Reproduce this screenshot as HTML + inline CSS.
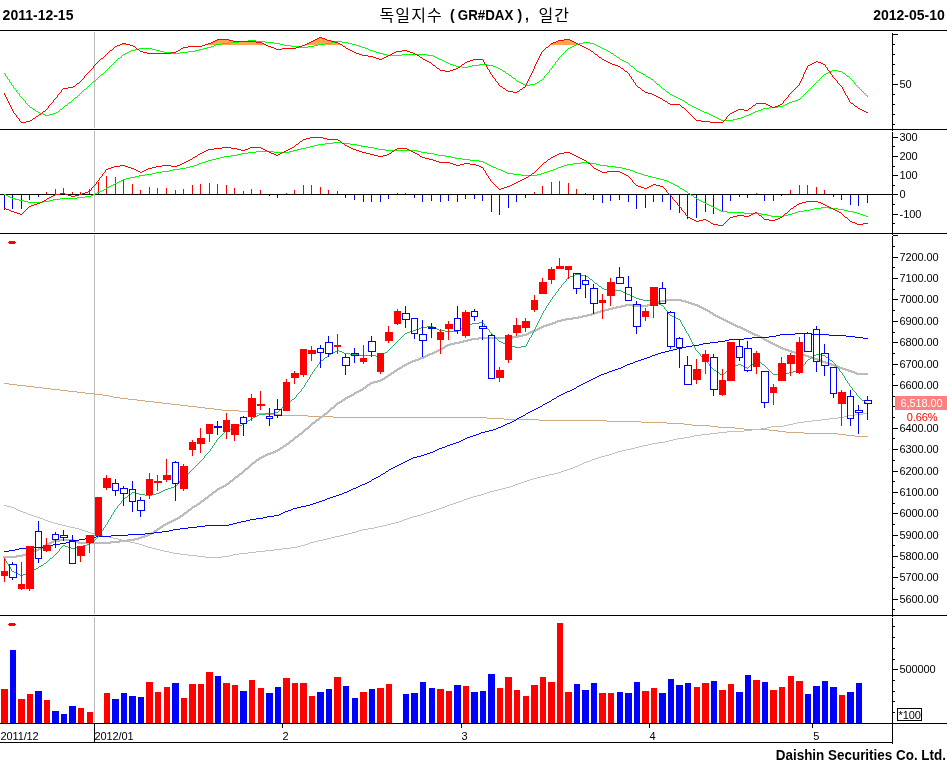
<!DOCTYPE html>
<html><head><meta charset="utf-8"><title>GR#DAX</title><style>html,body{margin:0;padding:0;background:#fff}</style></head><body>
<svg width="947" height="767" viewBox="0 0 947 767" style="display:block" shape-rendering="crispEdges">
<rect width="947" height="767" fill="#fff"/>
<rect x="0" y="194" width="893" height="1" fill="#000"/>
<rect x="94" y="32" width="1" height="96" fill="#bababa"/>
<rect x="94" y="131" width="1" height="101" fill="#bababa"/>
<rect x="94" y="235" width="1" height="379" fill="#bababa"/>
<rect x="94" y="617" width="1" height="105" fill="#bababa"/>
<path d="M120 44h10v1h-10zM122 43h4v1h-4zM205 44h61v1h-61zM208 43h56v1h-56zM211 42h51v1h-51zM213 41h43v1h-43zM215 40h18v1h-18zM217 39h12v1h-12zM305 44h37v1h-37zM307 43h33v1h-33zM309 42h29v1h-29zM311 41h24v1h-24zM313 40h18v1h-18zM315 39h12v1h-12zM317 38h8v1h-8zM319 37h3v1h-3zM550 44h30v1h-30zM551 43h27v1h-27zM553 42h23v1h-23zM556 41h18v1h-18zM558 40h14v1h-14zM564 39h6v1h-6z" fill="#ffa550"/>
<path d="M4 73h1v1h-1zM5 74h1v2h-1zM6 76h1v1h-1zM7 77h1v2h-1zM8 79h1v1h-1zM9 80h1v2h-1zM10 82h1v1h-1zM11 83h1v2h-1zM12 85h1v1h-1zM13 86h1v2h-1zM14 88h1v1h-1zM15 89h1v1h-1zM16 90h1v2h-1zM17 92h1v1h-1zM18 93h1v1h-1zM19 94h1v2h-1zM20 96h1v1h-1zM21 97h1v1h-1zM22 98h1v1h-1zM23 99h1v1h-1zM24 100h1v1h-1zM25 101h1v2h-1zM26 103h1v1h-1zM27 104h1v1h-1zM28 105h1v1h-1zM29 106h1v1h-1zM30 107h2v1h-2zM32 108h1v1h-1zM33 109h2v1h-2zM35 110h1v1h-1zM36 111h2v1h-2zM38 112h2v1h-2zM40 113h3v1h-3zM43 114h2v1h-2zM45 115h4v1h-4zM49 114h4v1h-4zM53 113h3v1h-3zM56 112h2v1h-2zM58 111h1v1h-1zM59 110h1v1h-1zM60 109h2v1h-2zM62 108h1v1h-1zM63 107h1v1h-1zM64 106h1v1h-1zM65 105h2v1h-2zM67 104h1v1h-1zM68 103h1v1h-1zM69 102h2v1h-2zM71 101h1v1h-1zM72 100h1v1h-1zM73 99h1v1h-1zM74 98h1v1h-1zM75 97h2v1h-2zM77 96h1v1h-1zM78 95h1v1h-1zM79 94h1v1h-1zM80 93h1v1h-1zM81 92h1v1h-1zM82 91h1v1h-1zM83 90h1v1h-1zM84 89h2v1h-2zM86 88h1v1h-1zM87 87h1v1h-1zM88 86h1v1h-1zM89 85h1v1h-1zM90 84h1v1h-1zM91 83h1v1h-1zM92 82h1v1h-1zM93 81h2v1h-2zM95 80h1v1h-1zM96 79h1v1h-1zM97 78h1v1h-1zM98 77h1v1h-1zM99 76h1v1h-1zM100 75h1v1h-1zM101 74h2v1h-2zM103 73h1v1h-1zM104 72h1v1h-1zM105 71h1v1h-1zM106 70h1v1h-1zM107 69h1v1h-1zM108 68h1v1h-1zM109 67h1v1h-1zM110 66h1v1h-1zM111 65h1v1h-1zM112 64h1v1h-1zM113 63h1v1h-1zM114 62h1v1h-1zM115 61h1v1h-1zM116 60h1v1h-1zM117 59h1v1h-1zM118 58h2v1h-2zM120 57h1v1h-1zM121 56h1v1h-1zM122 55h1v1h-1zM123 54h2v1h-2zM125 53h2v1h-2zM127 52h2v1h-2zM129 51h2v1h-2zM131 50h4v1h-4zM135 49h4v1h-4zM139 48h13v1h-13zM152 49h4v1h-4zM156 50h4v1h-4zM160 51h4v1h-4zM164 52h7v1h-7zM171 53h9v1h-9zM180 52h8v1h-8zM188 51h7v1h-7zM195 50h4v1h-4zM199 49h4v1h-4zM203 48h4v1h-4zM207 47h4v1h-4zM211 46h3v1h-3zM214 45h2v1h-2zM216 44h6v1h-6zM222 43h9v1h-9zM231 42h8v1h-8zM239 41h9v1h-9zM248 40h8v1h-8zM256 41h9v1h-9zM265 42h9v1h-9zM274 43h6v1h-6zM280 44h4v1h-4zM284 45h7v1h-7zM291 46h8v1h-8zM299 47h9v1h-9zM308 46h6v1h-6zM314 45h4v1h-4zM318 44h7v1h-7zM325 43h6v1h-6zM331 42h4v1h-4zM335 41h7v1h-7zM342 42h6v1h-6zM348 43h4v1h-4zM352 44h4v1h-4zM356 45h3v1h-3zM359 46h3v1h-3zM362 47h3v1h-3zM365 48h3v1h-3zM368 49h2v1h-2zM370 50h3v1h-3zM373 51h3v1h-3zM376 52h3v1h-3zM379 53h4v1h-4zM383 54h4v1h-4zM387 55h15v1h-15zM402 54h25v1h-25zM427 55h6v1h-6zM433 56h2v1h-2zM435 57h2v1h-2zM437 58h2v1h-2zM439 59h3v1h-3zM442 60h2v1h-2zM444 61h2v1h-2zM446 62h2v1h-2zM448 63h2v1h-2zM450 64h3v1h-3zM453 65h3v1h-3zM456 66h6v1h-6zM462 67h6v1h-6zM468 66h4v1h-4zM472 65h7v1h-7zM479 64h8v1h-8zM487 65h6v1h-6zM493 66h3v1h-3zM496 67h2v1h-2zM498 68h2v1h-2zM500 69h2v1h-2zM502 70h1v1h-1zM503 71h2v1h-2zM505 72h1v1h-1zM506 73h2v1h-2zM508 74h1v1h-1zM509 75h2v1h-2zM511 76h1v1h-1zM512 77h1v1h-1zM513 78h2v1h-2zM515 79h1v1h-1zM516 80h1v1h-1zM517 81h2v1h-2zM519 82h2v1h-2zM521 83h2v1h-2zM523 84h2v1h-2zM525 85h5v1h-5zM530 84h5v1h-5zM535 83h2v1h-2zM537 82h2v1h-2zM539 81h1v1h-1zM540 80h2v1h-2zM542 79h1v1h-1zM543 78h1v1h-1zM544 76h1v2h-1zM545 75h1v1h-1zM546 74h1v1h-1zM547 73h1v1h-1zM548 72h1v1h-1zM549 70h1v2h-1zM550 69h1v1h-1zM551 68h1v1h-1zM552 66h1v2h-1zM553 65h1v1h-1zM554 64h1v1h-1zM555 62h1v2h-1zM556 61h1v1h-1zM557 60h1v1h-1zM558 58h1v2h-1zM559 57h1v1h-1zM560 56h1v1h-1zM561 55h1v1h-1zM562 54h1v1h-1zM563 53h1v1h-1zM564 52h1v1h-1zM565 51h1v1h-1zM566 50h1v1h-1zM567 49h1v1h-1zM568 48h2v1h-2zM570 47h2v1h-2zM572 46h2v1h-2zM574 45h2v1h-2zM576 44h3v1h-3zM579 43h4v1h-4zM583 42h7v1h-7zM590 43h4v1h-4zM594 44h2v1h-2zM596 45h2v1h-2zM598 46h2v1h-2zM600 47h2v1h-2zM602 48h2v1h-2zM604 49h2v1h-2zM606 50h2v1h-2zM608 51h2v1h-2zM610 52h1v1h-1zM611 53h2v1h-2zM613 54h1v1h-1zM614 55h2v1h-2zM616 56h1v1h-1zM617 57h2v1h-2zM619 58h1v1h-1zM620 59h2v1h-2zM622 60h2v1h-2zM624 61h2v1h-2zM626 62h2v1h-2zM628 63h1v1h-1zM629 64h1v1h-1zM630 65h1v1h-1zM631 66h2v1h-2zM633 67h1v1h-1zM634 68h1v1h-1zM635 69h1v1h-1zM636 70h1v1h-1zM637 71h2v1h-2zM639 72h2v1h-2zM641 73h2v1h-2zM643 74h2v1h-2zM645 75h1v1h-1zM646 76h2v1h-2zM648 77h2v1h-2zM650 78h1v1h-1zM651 79h2v1h-2zM653 80h1v1h-1zM654 81h1v1h-1zM655 82h1v1h-1zM656 83h1v1h-1zM657 84h2v1h-2zM659 85h1v1h-1zM660 86h1v1h-1zM661 87h1v1h-1zM662 88h1v1h-1zM663 89h2v1h-2zM665 90h1v1h-1zM666 91h1v1h-1zM667 92h2v1h-2zM669 93h1v1h-1zM670 94h2v1h-2zM672 95h2v1h-2zM674 96h2v1h-2zM676 97h2v1h-2zM678 98h2v1h-2zM680 99h2v1h-2zM682 100h2v1h-2zM684 101h1v1h-1zM685 102h2v1h-2zM687 103h1v1h-1zM688 104h2v1h-2zM690 105h2v1h-2zM692 106h2v1h-2zM694 107h2v1h-2zM696 108h2v1h-2zM698 109h2v1h-2zM700 110h2v1h-2zM702 111h2v1h-2zM704 112h3v1h-3zM707 113h2v1h-2zM709 114h2v1h-2zM711 115h2v1h-2zM713 116h2v1h-2zM715 117h2v1h-2zM717 118h2v1h-2zM719 119h2v1h-2zM721 120h12v1h-12zM733 119h4v1h-4zM737 118h4v1h-4zM741 117h3v1h-3zM744 116h2v1h-2zM746 115h3v1h-3zM749 114h2v1h-2zM751 113h2v1h-2zM753 112h2v1h-2zM755 111h3v1h-3zM758 110h3v1h-3zM761 109h2v1h-2zM763 108h6v1h-6zM769 107h9v1h-9zM778 106h5v1h-5zM783 105h2v1h-2zM785 104h2v1h-2zM787 103h2v1h-2zM789 102h3v1h-3zM792 101h3v1h-3zM795 100h3v1h-3zM798 99h2v1h-2zM800 98h1v1h-1zM801 97h1v1h-1zM802 96h1v1h-1zM803 95h1v1h-1zM804 94h1v1h-1zM805 93h1v1h-1zM806 92h1v1h-1zM807 91h1v1h-1zM808 90h1v1h-1zM809 89h1v1h-1zM810 88h1v1h-1zM811 87h1v1h-1zM812 86h1v1h-1zM813 85h1v1h-1zM814 84h1v1h-1zM815 83h1v1h-1zM816 82h1v1h-1zM817 81h1v1h-1zM818 80h1v1h-1zM819 79h1v1h-1zM820 78h1v1h-1zM821 77h1v1h-1zM822 76h1v1h-1zM823 75h1v1h-1zM824 74h2v1h-2zM826 73h2v1h-2zM828 72h2v1h-2zM830 71h2v1h-2zM832 70h6v1h-6zM838 71h4v1h-4zM842 72h1v1h-1zM843 73h2v1h-2zM845 74h1v1h-1zM846 75h1v1h-1zM847 76h2v1h-2zM849 77h1v1h-1zM850 78h1v1h-1zM851 79h1v1h-1zM852 80h1v1h-1zM853 81h1v1h-1zM854 82h1v2h-1zM855 84h1v1h-1zM856 85h1v1h-1zM857 86h1v1h-1zM858 87h1v1h-1zM859 88h1v1h-1zM860 89h1v1h-1zM861 90h1v1h-1zM862 91h1v1h-1zM863 92h1v1h-1zM864 93h1v1h-1zM865 94h1v1h-1zM866 95h1v1h-1zM867 96h1v1h-1z" fill="#00ff00"/>
<path d="M4 93h1v2h-1zM5 95h1v2h-1zM6 97h1v2h-1zM7 99h1v2h-1zM8 101h1v2h-1zM9 103h1v2h-1zM10 105h1v2h-1zM11 107h1v2h-1zM12 109h1v2h-1zM13 111h1v2h-1zM14 113h1v1h-1zM15 114h1v1h-1zM16 115h1v2h-1zM17 117h1v1h-1zM18 118h1v1h-1zM19 119h1v2h-1zM20 121h1v1h-1zM21 122h5v1h-5zM26 121h4v1h-4zM30 120h2v1h-2zM32 119h1v1h-1zM33 118h2v1h-2zM35 117h1v1h-1zM36 116h2v1h-2zM38 115h1v1h-1zM39 114h2v1h-2zM41 113h1v1h-1zM42 112h1v1h-1zM43 111h2v1h-2zM45 110h1v1h-1zM46 109h1v1h-1zM47 108h1v1h-1zM48 106h1v2h-1zM49 105h1v1h-1zM50 104h1v1h-1zM51 103h1v1h-1zM52 102h1v1h-1zM53 100h1v2h-1zM54 99h1v1h-1zM55 98h1v1h-1zM56 97h1v1h-1zM57 95h1v2h-1zM58 94h1v1h-1zM59 93h1v1h-1zM60 92h1v1h-1zM61 90h1v2h-1zM62 89h1v1h-1zM63 88h5v1h-5zM68 87h5v1h-5zM73 86h2v1h-2zM75 85h1v1h-1zM76 84h1v1h-1zM77 83h2v1h-2zM79 82h1v1h-1zM80 81h1v1h-1zM81 80h1v1h-1zM82 79h1v1h-1zM83 78h1v1h-1zM84 76h1v2h-1zM85 75h1v1h-1zM86 74h1v1h-1zM87 73h1v1h-1zM88 72h1v1h-1zM89 71h1v1h-1zM90 70h1v1h-1zM91 69h1v1h-1zM92 68h1v1h-1zM93 66h1v2h-1zM94 65h1v1h-1zM95 64h1v1h-1zM96 63h1v1h-1zM97 62h1v1h-1zM98 61h1v1h-1zM99 60h1v1h-1zM100 59h1v1h-1zM101 58h2v1h-2zM103 57h1v1h-1zM104 56h1v1h-1zM105 55h1v1h-1zM106 54h1v1h-1zM107 53h1v1h-1zM108 52h1v1h-1zM109 51h1v1h-1zM110 50h2v1h-2zM112 49h1v1h-1zM113 48h1v1h-1zM114 47h1v1h-1zM115 46h2v1h-2zM117 45h3v1h-3zM120 44h2v1h-2zM122 43h4v1h-4zM126 44h4v1h-4zM130 45h3v1h-3zM133 46h2v1h-2zM135 47h1v1h-1zM136 48h1v1h-1zM137 49h2v1h-2zM139 50h1v1h-1zM140 51h3v1h-3zM143 52h4v1h-4zM147 53h24v1h-24zM171 52h5v1h-5zM176 51h2v1h-2zM178 50h2v1h-2zM180 49h1v1h-1zM181 48h2v1h-2zM183 47h5v1h-5zM188 46h14v1h-14zM202 45h3v1h-3zM205 44h3v1h-3zM208 43h3v1h-3zM211 42h2v1h-2zM213 41h2v1h-2zM215 40h2v1h-2zM217 39h12v1h-12zM229 40h4v1h-4zM233 41h23v1h-23zM256 42h6v1h-6zM262 43h2v1h-2zM264 44h2v1h-2zM266 45h2v1h-2zM268 46h3v1h-3zM271 47h3v1h-3zM274 48h2v1h-2zM276 49h6v1h-6zM282 48h14v1h-14zM296 47h3v1h-3zM299 46h3v1h-3zM302 45h3v1h-3zM305 44h2v1h-2zM307 43h2v1h-2zM309 42h2v1h-2zM311 41h2v1h-2zM313 40h2v1h-2zM315 39h2v1h-2zM317 38h2v1h-2zM319 37h3v1h-3zM322 38h3v1h-3zM325 39h2v1h-2zM327 40h4v1h-4zM331 41h4v1h-4zM335 42h3v1h-3zM338 43h2v1h-2zM340 44h2v1h-2zM342 45h1v1h-1zM343 46h2v1h-2zM345 47h1v1h-1zM346 48h2v1h-2zM348 49h2v1h-2zM350 50h2v1h-2zM352 51h2v1h-2zM354 52h2v1h-2zM356 53h3v1h-3zM359 54h3v1h-3zM362 55h6v1h-6zM368 56h5v1h-5zM373 57h3v1h-3zM376 58h3v1h-3zM379 59h3v1h-3zM382 58h2v1h-2zM384 57h2v1h-2zM386 56h2v1h-2zM388 55h2v1h-2zM390 54h2v1h-2zM392 53h2v1h-2zM394 52h2v1h-2zM396 51h6v1h-6zM402 50h5v1h-5zM407 51h3v1h-3zM410 52h3v1h-3zM413 53h2v1h-2zM415 54h2v1h-2zM417 55h2v1h-2zM419 56h1v1h-1zM420 57h2v1h-2zM422 58h1v1h-1zM423 59h2v1h-2zM425 60h2v1h-2zM427 61h2v1h-2zM429 62h2v1h-2zM431 63h1v1h-1zM432 64h1v1h-1zM433 65h2v1h-2zM435 66h1v1h-1zM436 67h1v1h-1zM437 68h2v1h-2zM439 69h1v1h-1zM440 70h5v1h-5zM445 71h5v1h-5zM450 70h3v1h-3zM453 69h3v1h-3zM456 68h2v1h-2zM458 67h2v1h-2zM460 66h1v1h-1zM461 65h1v1h-1zM462 64h2v1h-2zM464 63h1v1h-1zM465 62h2v1h-2zM467 61h3v1h-3zM470 60h3v1h-3zM473 59h10v1h-10zM483 60h1v2h-1zM484 62h1v2h-1zM485 64h1v1h-1zM486 65h1v2h-1zM487 67h1v2h-1zM488 69h1v1h-1zM489 70h1v2h-1zM490 72h1v2h-1zM491 74h1v1h-1zM492 75h1v2h-1zM493 77h1v1h-1zM494 78h1v1h-1zM495 79h1v2h-1zM496 81h1v1h-1zM497 82h1v1h-1zM498 83h1v2h-1zM499 85h1v1h-1zM500 86h2v1h-2zM502 87h1v1h-1zM503 88h2v1h-2zM505 89h1v1h-1zM506 90h2v1h-2zM508 91h5v1h-5zM513 92h4v1h-4zM517 91h2v1h-2zM519 90h1v1h-1zM520 89h2v1h-2zM522 88h1v1h-1zM523 87h2v1h-2zM525 85h1v2h-1zM526 83h1v2h-1zM527 81h1v2h-1zM528 79h1v2h-1zM529 77h1v2h-1zM530 75h1v2h-1zM531 73h1v2h-1zM532 71h1v2h-1zM533 69h1v2h-1zM534 66h1v3h-1zM535 64h1v2h-1zM536 62h1v2h-1zM537 60h1v2h-1zM538 58h1v2h-1zM539 56h1v2h-1zM540 54h1v2h-1zM541 52h1v2h-1zM542 51h1v1h-1zM543 50h1v1h-1zM544 49h1v1h-1zM545 48h1v1h-1zM546 47h2v1h-2zM548 46h1v1h-1zM549 45h1v1h-1zM550 44h1v1h-1zM551 43h2v1h-2zM553 42h3v1h-3zM556 41h2v1h-2zM558 40h6v1h-6zM564 39h6v1h-6zM570 40h2v1h-2zM572 41h2v1h-2zM574 42h2v1h-2zM576 43h2v1h-2zM578 44h2v1h-2zM580 45h2v1h-2zM582 46h2v1h-2zM584 47h2v1h-2zM586 48h2v1h-2zM588 49h2v1h-2zM590 50h1v1h-1zM591 51h2v1h-2zM593 52h1v1h-1zM594 53h1v1h-1zM595 54h2v1h-2zM597 55h1v1h-1zM598 56h1v1h-1zM599 57h2v1h-2zM601 58h1v1h-1zM602 59h2v1h-2zM604 60h2v1h-2zM606 61h2v1h-2zM608 62h2v1h-2zM610 63h2v1h-2zM612 64h3v1h-3zM615 65h3v1h-3zM618 66h2v1h-2zM620 67h1v1h-1zM621 68h2v1h-2zM623 69h1v1h-1zM624 70h1v1h-1zM625 71h2v1h-2zM627 72h1v1h-1zM628 73h1v1h-1zM629 74h1v2h-1zM630 76h1v1h-1zM631 77h1v2h-1zM632 79h1v1h-1zM633 80h1v2h-1zM634 82h1v1h-1zM635 83h1v2h-1zM636 85h1v1h-1zM637 86h1v1h-1zM638 87h2v1h-2zM640 88h1v1h-1zM641 89h1v1h-1zM642 90h2v1h-2zM644 91h1v1h-1zM645 92h3v1h-3zM648 93h4v1h-4zM652 94h2v1h-2zM654 95h2v1h-2zM656 96h2v1h-2zM658 97h2v1h-2zM660 98h2v1h-2zM662 99h1v1h-1zM663 100h2v1h-2zM665 101h2v1h-2zM667 102h1v1h-1zM668 103h2v1h-2zM670 104h10v1h-10zM680 105h1v1h-1zM681 106h1v1h-1zM682 107h2v1h-2zM684 108h1v1h-1zM685 109h1v1h-1zM686 110h1v1h-1zM687 111h1v1h-1zM688 112h1v1h-1zM689 113h1v1h-1zM690 114h1v1h-1zM691 115h1v1h-1zM692 116h1v1h-1zM693 117h1v1h-1zM694 118h1v1h-1zM695 119h1v1h-1zM696 120h5v1h-5zM701 121h9v1h-9zM710 122h13v1h-13zM723 121h1v1h-1zM724 120h1v1h-1zM725 119h1v1h-1zM726 117h1v2h-1zM727 116h1v1h-1zM728 115h1v1h-1zM729 114h1v1h-1zM730 113h2v1h-2zM732 112h2v1h-2zM734 111h2v1h-2zM736 110h2v1h-2zM738 109h6v1h-6zM744 110h4v1h-4zM748 109h1v1h-1zM749 108h2v1h-2zM751 107h1v1h-1zM752 106h1v1h-1zM753 105h2v1h-2zM755 104h1v1h-1zM756 103h10v1h-10zM766 104h2v1h-2zM768 105h2v1h-2zM770 106h2v1h-2zM772 107h3v1h-3zM775 106h3v1h-3zM778 105h2v1h-2zM780 104h2v1h-2zM782 103h1v1h-1zM783 101h1v2h-1zM784 100h1v1h-1zM785 99h1v1h-1zM786 98h1v1h-1zM787 97h1v1h-1zM788 95h1v2h-1zM789 94h1v1h-1zM790 93h1v1h-1zM791 92h1v1h-1zM792 91h1v1h-1zM793 90h1v1h-1zM794 89h1v1h-1zM795 88h1v1h-1zM796 87h1v1h-1zM797 86h1v1h-1zM798 85h1v1h-1zM799 83h1v2h-1zM800 81h1v2h-1zM801 79h1v2h-1zM802 77h1v2h-1zM803 74h1v3h-1zM804 72h1v2h-1zM805 70h1v2h-1zM806 68h1v2h-1zM807 66h1v2h-1zM808 65h2v1h-2zM810 64h2v1h-2zM812 63h2v1h-2zM814 62h2v1h-2zM816 61h2v1h-2zM818 62h3v1h-3zM821 63h2v1h-2zM823 64h2v1h-2zM825 65h1v2h-1zM826 67h1v1h-1zM827 68h1v2h-1zM828 70h1v1h-1zM829 71h1v1h-1zM830 72h1v2h-1zM831 74h1v1h-1zM832 75h1v2h-1zM833 77h1v1h-1zM834 78h1v1h-1zM835 79h1v1h-1zM836 80h1v1h-1zM837 81h1v2h-1zM838 83h1v1h-1zM839 84h1v1h-1zM840 85h1v1h-1zM841 86h1v1h-1zM842 87h1v2h-1zM843 89h1v2h-1zM844 91h1v2h-1zM845 93h1v2h-1zM846 95h1v1h-1zM847 96h1v2h-1zM848 98h1v2h-1zM849 100h1v2h-1zM850 102h1v1h-1zM851 103h2v1h-2zM853 104h1v1h-1zM854 105h1v1h-1zM855 106h2v1h-2zM857 107h1v1h-1zM858 108h2v1h-2zM860 109h2v1h-2zM862 110h2v1h-2zM864 111h2v1h-2zM866 112h2v1h-2z" fill="#ff0000"/>
<rect x="4" y="195" width="1" height="15" fill="#0000ff"/>
<rect x="12" y="195" width="1" height="14" fill="#0000ff"/>
<rect x="21" y="195" width="1" height="14" fill="#0000ff"/>
<rect x="29" y="195" width="1" height="5" fill="#0000ff"/>
<rect x="38" y="195" width="1" height="2" fill="#0000ff"/>
<rect x="46" y="192" width="1" height="2" fill="#ff0000"/>
<rect x="55" y="189" width="1" height="5" fill="#ff0000"/>
<rect x="63" y="188" width="1" height="6" fill="#ff0000"/>
<rect x="72" y="192" width="1" height="2" fill="#ff0000"/>
<rect x="80" y="192" width="1" height="2" fill="#ff0000"/>
<rect x="89" y="189" width="1" height="5" fill="#ff0000"/>
<rect x="98" y="182" width="1" height="12" fill="#ff0000"/>
<rect x="106" y="176" width="1" height="18" fill="#ff0000"/>
<rect x="115" y="177" width="1" height="17" fill="#ff0000"/>
<rect x="123" y="180" width="1" height="14" fill="#ff0000"/>
<rect x="132" y="184" width="1" height="10" fill="#ff0000"/>
<rect x="140" y="190" width="1" height="4" fill="#ff0000"/>
<rect x="149" y="187" width="1" height="7" fill="#ff0000"/>
<rect x="157" y="188" width="1" height="6" fill="#ff0000"/>
<rect x="166" y="188" width="1" height="6" fill="#ff0000"/>
<rect x="175" y="190" width="1" height="4" fill="#ff0000"/>
<rect x="183" y="189" width="1" height="5" fill="#ff0000"/>
<rect x="192" y="185" width="1" height="9" fill="#ff0000"/>
<rect x="200" y="184" width="1" height="10" fill="#ff0000"/>
<rect x="209" y="183" width="1" height="11" fill="#ff0000"/>
<rect x="217" y="184" width="1" height="10" fill="#ff0000"/>
<rect x="226" y="185" width="1" height="9" fill="#ff0000"/>
<rect x="234" y="188" width="1" height="6" fill="#ff0000"/>
<rect x="243" y="191" width="1" height="3" fill="#ff0000"/>
<rect x="251" y="189" width="1" height="5" fill="#ff0000"/>
<rect x="260" y="190" width="1" height="4" fill="#ff0000"/>
<rect x="269" y="195" width="1" height="1" fill="#0000ff"/>
<rect x="277" y="195" width="1" height="3" fill="#0000ff"/>
<rect x="286" y="193" width="1" height="1" fill="#ff0000"/>
<rect x="294" y="190" width="1" height="4" fill="#ff0000"/>
<rect x="303" y="185" width="1" height="9" fill="#ff0000"/>
<rect x="311" y="185" width="1" height="9" fill="#ff0000"/>
<rect x="320" y="187" width="1" height="7" fill="#ff0000"/>
<rect x="328" y="190" width="1" height="4" fill="#ff0000"/>
<rect x="337" y="191" width="1" height="3" fill="#ff0000"/>
<rect x="345" y="195" width="1" height="3" fill="#0000ff"/>
<rect x="354" y="195" width="1" height="5" fill="#0000ff"/>
<rect x="363" y="195" width="1" height="7" fill="#0000ff"/>
<rect x="371" y="195" width="1" height="7" fill="#0000ff"/>
<rect x="380" y="195" width="1" height="7" fill="#0000ff"/>
<rect x="388" y="195" width="1" height="4" fill="#0000ff"/>
<rect x="397" y="193" width="1" height="1" fill="#ff0000"/>
<rect x="405" y="193" width="1" height="1" fill="#ff0000"/>
<rect x="414" y="195" width="1" height="3" fill="#0000ff"/>
<rect x="422" y="195" width="1" height="7" fill="#0000ff"/>
<rect x="431" y="195" width="1" height="6" fill="#0000ff"/>
<rect x="440" y="195" width="1" height="7" fill="#0000ff"/>
<rect x="448" y="195" width="1" height="6" fill="#0000ff"/>
<rect x="457" y="195" width="1" height="7" fill="#0000ff"/>
<rect x="465" y="195" width="1" height="4" fill="#0000ff"/>
<rect x="474" y="195" width="1" height="4" fill="#0000ff"/>
<rect x="482" y="195" width="1" height="6" fill="#0000ff"/>
<rect x="491" y="195" width="1" height="17" fill="#0000ff"/>
<rect x="499" y="195" width="1" height="20" fill="#0000ff"/>
<rect x="508" y="195" width="1" height="13" fill="#0000ff"/>
<rect x="516" y="195" width="1" height="7" fill="#0000ff"/>
<rect x="525" y="195" width="1" height="3" fill="#0000ff"/>
<rect x="534" y="192" width="1" height="2" fill="#ff0000"/>
<rect x="542" y="186" width="1" height="8" fill="#ff0000"/>
<rect x="551" y="182" width="1" height="12" fill="#ff0000"/>
<rect x="559" y="181" width="1" height="13" fill="#ff0000"/>
<rect x="568" y="183" width="1" height="11" fill="#ff0000"/>
<rect x="576" y="189" width="1" height="5" fill="#ff0000"/>
<rect x="585" y="193" width="1" height="1" fill="#ff0000"/>
<rect x="593" y="195" width="1" height="5" fill="#0000ff"/>
<rect x="602" y="195" width="1" height="8" fill="#0000ff"/>
<rect x="610" y="195" width="1" height="6" fill="#0000ff"/>
<rect x="619" y="195" width="1" height="5" fill="#0000ff"/>
<rect x="628" y="195" width="1" height="7" fill="#0000ff"/>
<rect x="636" y="195" width="1" height="14" fill="#0000ff"/>
<rect x="645" y="195" width="1" height="13" fill="#0000ff"/>
<rect x="653" y="195" width="1" height="7" fill="#0000ff"/>
<rect x="662" y="195" width="1" height="7" fill="#0000ff"/>
<rect x="670" y="195" width="1" height="15" fill="#0000ff"/>
<rect x="679" y="195" width="1" height="18" fill="#0000ff"/>
<rect x="687" y="195" width="1" height="24" fill="#0000ff"/>
<rect x="696" y="195" width="1" height="23" fill="#0000ff"/>
<rect x="705" y="195" width="1" height="17" fill="#0000ff"/>
<rect x="713" y="195" width="1" height="19" fill="#0000ff"/>
<rect x="722" y="195" width="1" height="16" fill="#0000ff"/>
<rect x="730" y="195" width="1" height="6" fill="#0000ff"/>
<rect x="739" y="195" width="1" height="2" fill="#0000ff"/>
<rect x="747" y="195" width="1" height="3" fill="#0000ff"/>
<rect x="756" y="193" width="1" height="1" fill="#ff0000"/>
<rect x="764" y="195" width="1" height="6" fill="#0000ff"/>
<rect x="773" y="195" width="1" height="6" fill="#0000ff"/>
<rect x="781" y="195" width="1" height="1" fill="#0000ff"/>
<rect x="790" y="190" width="1" height="4" fill="#ff0000"/>
<rect x="799" y="185" width="1" height="9" fill="#ff0000"/>
<rect x="807" y="185" width="1" height="9" fill="#ff0000"/>
<rect x="816" y="187" width="1" height="7" fill="#ff0000"/>
<rect x="824" y="190" width="1" height="4" fill="#ff0000"/>
<rect x="833" y="195" width="1" height="2" fill="#0000ff"/>
<rect x="841" y="195" width="1" height="5" fill="#0000ff"/>
<rect x="850" y="195" width="1" height="10" fill="#0000ff"/>
<rect x="858" y="195" width="1" height="11" fill="#0000ff"/>
<rect x="867" y="195" width="1" height="8" fill="#0000ff"/>
<path d="M4 194h2v1h-2zM6 195h2v1h-2zM8 196h2v1h-2zM10 197h2v1h-2zM12 198h3v1h-3zM15 199h4v1h-4zM19 200h5v1h-5zM24 201h4v1h-4zM28 202h15v1h-15zM43 201h6v1h-6zM49 200h4v1h-4zM53 199h7v1h-7zM60 198h17v1h-17zM77 197h8v1h-8zM85 196h6v1h-6zM91 195h2v1h-2zM93 194h2v1h-2zM95 193h2v1h-2zM97 192h3v1h-3zM100 191h2v1h-2zM102 190h2v1h-2zM104 189h2v1h-2zM106 188h1v1h-1zM107 187h2v1h-2zM109 186h2v1h-2zM111 185h2v1h-2zM113 184h2v1h-2zM115 183h2v1h-2zM117 182h2v1h-2zM119 181h2v1h-2zM121 180h2v1h-2zM123 179h3v1h-3zM126 178h4v1h-4zM130 177h5v1h-5zM135 176h4v1h-4zM139 175h6v1h-6zM145 174h7v1h-7zM152 173h4v1h-4zM156 172h6v1h-6zM162 171h7v1h-7zM169 170h4v1h-4zM173 169h7v1h-7zM180 168h6v1h-6zM186 167h4v1h-4zM190 166h4v1h-4zM194 165h3v1h-3zM197 164h2v1h-2zM199 163h3v1h-3zM202 162h3v1h-3zM205 161h3v1h-3zM208 160h4v1h-4zM212 159h4v1h-4zM216 158h4v1h-4zM220 157h4v1h-4zM224 156h7v1h-7zM231 155h6v1h-6zM237 154h4v1h-4zM241 153h7v1h-7zM248 152h8v1h-8zM256 151h18v1h-18zM274 152h15v1h-15zM289 151h4v1h-4zM293 150h4v1h-4zM297 149h4v1h-4zM301 148h5v1h-5zM306 147h4v1h-4zM310 146h4v1h-4zM314 145h4v1h-4zM318 144h7v1h-7zM325 143h8v1h-8zM333 142h9v1h-9zM342 143h8v1h-8zM350 144h7v1h-7zM357 145h4v1h-4zM361 146h7v1h-7zM368 147h6v1h-6zM374 148h4v1h-4zM378 149h7v1h-7zM385 150h32v1h-32zM417 151h4v1h-4zM421 152h6v1h-6zM427 153h7v1h-7zM434 154h4v1h-4zM438 155h7v1h-7zM445 156h6v1h-6zM451 157h4v1h-4zM455 158h7v1h-7zM462 159h8v1h-8zM470 160h9v1h-9zM479 161h4v1h-4zM483 162h2v1h-2zM485 163h2v1h-2zM487 164h2v1h-2zM489 165h2v1h-2zM491 166h2v1h-2zM493 167h3v1h-3zM496 168h2v1h-2zM498 169h3v1h-3zM501 170h2v1h-2zM503 171h2v1h-2zM505 172h2v1h-2zM507 173h6v1h-6zM513 174h8v1h-8zM521 175h16v1h-16zM537 174h4v1h-4zM541 173h3v1h-3zM544 172h3v1h-3zM547 171h3v1h-3zM550 170h3v1h-3zM553 169h3v1h-3zM556 168h2v1h-2zM558 167h3v1h-3zM561 166h3v1h-3zM564 165h3v1h-3zM567 164h6v1h-6zM573 163h8v1h-8zM581 162h9v1h-9zM590 163h6v1h-6zM596 164h4v1h-4zM600 165h7v1h-7zM607 166h8v1h-8zM615 167h7v1h-7zM622 168h4v1h-4zM626 169h4v1h-4zM630 170h3v1h-3zM633 171h2v1h-2zM635 172h3v1h-3zM638 173h3v1h-3zM641 174h3v1h-3zM644 175h4v1h-4zM648 176h4v1h-4zM652 177h4v1h-4zM656 178h4v1h-4zM660 179h4v1h-4zM664 180h3v1h-3zM667 181h2v1h-2zM669 182h2v1h-2zM671 183h2v1h-2zM673 184h2v1h-2zM675 185h2v1h-2zM677 186h2v1h-2zM679 187h1v1h-1zM680 188h2v1h-2zM682 189h2v1h-2zM684 190h1v1h-1zM685 191h2v1h-2zM687 192h1v1h-1zM688 193h2v1h-2zM690 194h1v1h-1zM691 195h2v1h-2zM693 196h1v1h-1zM694 197h2v1h-2zM696 198h1v1h-1zM697 199h2v1h-2zM699 200h2v1h-2zM701 201h2v1h-2zM703 202h2v1h-2zM705 203h2v1h-2zM707 204h2v1h-2zM709 205h2v1h-2zM711 206h2v1h-2zM713 207h2v1h-2zM715 208h2v1h-2zM717 209h2v1h-2zM719 210h2v1h-2zM721 211h6v1h-6zM727 212h17v1h-17zM744 213h17v1h-17zM761 214h6v1h-6zM767 215h4v1h-4zM771 216h13v1h-13zM784 215h4v1h-4zM788 214h4v1h-4zM792 213h3v1h-3zM795 212h3v1h-3zM798 211h6v1h-6zM804 210h6v1h-6zM810 209h4v1h-4zM814 208h7v1h-7zM821 207h8v1h-8zM829 208h9v1h-9zM838 209h6v1h-6zM844 210h4v1h-4zM848 211h5v1h-5zM853 212h4v1h-4zM857 213h3v1h-3zM860 214h3v1h-3zM863 215h3v1h-3zM866 216h2v1h-2z" fill="#00ff00"/>
<path d="M4 208h2v1h-2zM6 209h3v1h-3zM9 210h2v1h-2zM11 211h3v1h-3zM14 212h3v1h-3zM17 213h3v1h-3zM20 214h2v1h-2zM22 213h1v1h-1zM23 212h1v1h-1zM24 211h1v1h-1zM25 210h1v1h-1zM26 209h1v1h-1zM27 208h1v1h-1zM28 207h1v1h-1zM29 206h2v1h-2zM31 205h3v1h-3zM34 204h3v1h-3zM37 203h3v1h-3zM40 202h2v1h-2zM42 201h2v1h-2zM44 200h2v1h-2zM46 199h1v1h-1zM47 198h2v1h-2zM49 197h2v1h-2zM51 196h2v1h-2zM53 195h2v1h-2zM55 194h5v1h-5zM60 193h5v1h-5zM65 194h3v1h-3zM68 195h3v1h-3zM71 196h4v1h-4zM75 195h4v1h-4zM79 194h3v1h-3zM82 193h3v1h-3zM85 192h3v1h-3zM88 191h2v1h-2zM90 190h1v1h-1zM91 188h1v2h-1zM92 187h1v1h-1zM93 186h1v1h-1zM94 185h1v1h-1zM95 184h1v1h-1zM96 182h1v2h-1zM97 181h1v1h-1zM98 180h1v1h-1zM99 178h1v2h-1zM100 177h1v1h-1zM101 176h1v1h-1zM102 174h1v2h-1zM103 173h1v1h-1zM104 172h1v1h-1zM105 170h1v2h-1zM106 169h2v1h-2zM108 168h3v1h-3zM111 167h3v1h-3zM114 166h6v1h-6zM120 165h5v1h-5zM125 166h3v1h-3zM128 167h3v1h-3zM131 168h3v1h-3zM134 169h2v1h-2zM136 170h2v1h-2zM138 171h2v1h-2zM140 172h2v1h-2zM142 171h2v1h-2zM144 170h2v1h-2zM146 169h2v1h-2zM148 168h4v1h-4zM152 167h4v1h-4zM156 166h6v1h-6zM162 165h9v1h-9zM171 166h6v1h-6zM177 165h3v1h-3zM180 164h2v1h-2zM182 163h2v1h-2zM184 162h2v1h-2zM186 161h2v1h-2zM188 160h2v1h-2zM190 159h2v1h-2zM192 158h1v1h-1zM193 157h2v1h-2zM195 156h2v1h-2zM197 155h1v1h-1zM198 154h2v1h-2zM200 153h2v1h-2zM202 152h2v1h-2zM204 151h2v1h-2zM206 150h2v1h-2zM208 149h6v1h-6zM214 148h8v1h-8zM222 147h9v1h-9zM231 148h6v1h-6zM237 149h4v1h-4zM241 150h4v1h-4zM245 149h3v1h-3zM248 148h2v1h-2zM250 147h11v1h-11zM261 148h2v1h-2zM263 149h2v1h-2zM265 150h2v1h-2zM267 151h2v1h-2zM269 152h2v1h-2zM271 153h3v1h-3zM274 154h2v1h-2zM276 155h2v1h-2zM278 154h2v1h-2zM280 153h2v1h-2zM282 152h2v1h-2zM284 151h2v1h-2zM286 150h2v1h-2zM288 149h2v1h-2zM290 148h2v1h-2zM292 147h2v1h-2zM294 146h1v1h-1zM295 145h1v1h-1zM296 144h2v1h-2zM298 143h1v1h-1zM299 142h1v1h-1zM300 141h2v1h-2zM302 140h1v1h-1zM303 139h3v1h-3zM306 138h4v1h-4zM310 137h13v1h-13zM323 138h4v1h-4zM327 139h11v1h-11zM338 140h2v1h-2zM340 141h1v1h-1zM341 142h1v1h-1zM342 143h2v1h-2zM344 144h1v1h-1zM345 145h2v1h-2zM347 146h2v1h-2zM349 147h2v1h-2zM351 148h2v1h-2zM353 149h3v1h-3zM356 150h3v1h-3zM359 151h3v1h-3zM362 152h4v1h-4zM366 153h4v1h-4zM370 154h4v1h-4zM374 155h4v1h-4zM378 156h5v1h-5zM383 155h4v1h-4zM387 154h2v1h-2zM389 153h2v1h-2zM391 152h1v1h-1zM392 151h2v1h-2zM394 150h1v1h-1zM395 149h2v1h-2zM397 148h10v1h-10zM407 149h2v1h-2zM409 150h2v1h-2zM411 151h2v1h-2zM413 152h2v1h-2zM415 153h2v1h-2zM417 154h2v1h-2zM419 155h1v1h-1zM420 156h2v1h-2zM422 157h3v1h-3zM425 158h4v1h-4zM429 159h4v1h-4zM433 160h3v1h-3zM436 161h3v1h-3zM439 162h11v1h-11zM450 163h3v1h-3zM453 164h3v1h-3zM456 165h4v1h-4zM460 164h4v1h-4zM464 163h6v1h-6zM470 164h6v1h-6zM476 165h3v1h-3zM479 166h2v1h-2zM481 167h2v1h-2zM483 168h1v2h-1zM484 170h1v1h-1zM485 171h1v2h-1zM486 173h1v2h-1zM487 175h1v1h-1zM488 176h1v2h-1zM489 178h1v1h-1zM490 179h1v2h-1zM491 181h1v1h-1zM492 182h1v1h-1zM493 183h1v1h-1zM494 184h1v1h-1zM495 185h1v1h-1zM496 186h1v1h-1zM497 187h1v1h-1zM498 188h1v1h-1zM499 189h2v1h-2zM501 188h3v1h-3zM504 187h3v1h-3zM507 186h3v1h-3zM510 185h2v1h-2zM512 184h2v1h-2zM514 183h2v1h-2zM516 182h2v1h-2zM518 181h2v1h-2zM520 180h2v1h-2zM522 179h2v1h-2zM524 178h2v1h-2zM526 177h2v1h-2zM528 176h1v1h-1zM529 175h2v1h-2zM531 174h1v1h-1zM532 173h2v1h-2zM534 172h1v1h-1zM535 171h1v1h-1zM536 170h1v1h-1zM537 169h1v1h-1zM538 168h1v1h-1zM539 167h1v1h-1zM540 166h1v1h-1zM541 165h1v1h-1zM542 164h1v1h-1zM543 163h1v1h-1zM544 162h2v1h-2zM546 161h1v1h-1zM547 160h1v1h-1zM548 159h2v1h-2zM550 158h1v1h-1zM551 157h2v1h-2zM553 156h2v1h-2zM555 155h2v1h-2zM557 154h2v1h-2zM559 153h5v1h-5zM564 152h6v1h-6zM570 153h2v1h-2zM572 154h2v1h-2zM574 155h2v1h-2zM576 156h2v1h-2zM578 157h2v1h-2zM580 158h2v1h-2zM582 159h2v1h-2zM584 160h2v1h-2zM586 161h1v1h-1zM587 162h1v1h-1zM588 163h2v1h-2zM590 164h1v1h-1zM591 165h1v1h-1zM592 166h1v1h-1zM593 167h1v1h-1zM594 168h2v1h-2zM596 169h2v1h-2zM598 170h2v1h-2zM600 171h2v1h-2zM602 172h5v1h-5zM607 171h13v1h-13zM620 172h2v1h-2zM622 173h2v1h-2zM624 174h2v1h-2zM626 175h2v1h-2zM628 176h1v1h-1zM629 177h1v1h-1zM630 178h1v1h-1zM631 179h1v1h-1zM632 180h1v2h-1zM633 182h1v1h-1zM634 183h1v1h-1zM635 184h1v1h-1zM636 185h2v1h-2zM638 186h3v1h-3zM641 187h3v1h-3zM644 188h3v1h-3zM647 187h2v1h-2zM649 186h2v1h-2zM651 185h2v1h-2zM653 184h3v1h-3zM656 185h4v1h-4zM660 186h3v1h-3zM663 187h1v1h-1zM664 188h1v1h-1zM665 189h1v1h-1zM666 190h1v2h-1zM667 192h1v1h-1zM668 193h1v1h-1zM669 194h1v1h-1zM670 195h1v1h-1zM671 196h1v1h-1zM672 197h1v2h-1zM673 199h1v1h-1zM674 200h1v1h-1zM675 201h1v1h-1zM676 202h1v1h-1zM677 203h1v2h-1zM678 205h1v1h-1zM679 206h1v1h-1zM680 207h1v1h-1zM681 208h1v2h-1zM682 210h1v1h-1zM683 211h1v1h-1zM684 212h1v1h-1zM685 213h1v2h-1zM686 215h1v1h-1zM687 216h1v1h-1zM688 217h2v1h-2zM690 218h2v1h-2zM692 219h2v1h-2zM694 220h2v1h-2zM696 221h3v1h-3zM699 220h4v1h-4zM703 219h3v1h-3zM706 220h2v1h-2zM708 221h2v1h-2zM710 222h1v1h-1zM711 223h2v1h-2zM713 224h5v1h-5zM718 225h5v1h-5zM723 224h1v1h-1zM724 223h1v1h-1zM725 222h1v1h-1zM726 221h1v1h-1zM727 220h1v1h-1zM728 219h1v1h-1zM729 218h1v1h-1zM730 217h3v1h-3zM733 216h4v1h-4zM737 215h7v1h-7zM744 216h5v1h-5zM749 215h2v1h-2zM751 214h2v1h-2zM753 213h2v1h-2zM755 212h2v1h-2zM757 213h1v1h-1zM758 214h1v1h-1zM759 215h2v1h-2zM761 216h1v1h-1zM762 217h1v1h-1zM763 218h1v1h-1zM764 219h5v1h-5zM769 220h6v1h-6zM775 219h3v1h-3zM778 218h2v1h-2zM780 217h2v1h-2zM782 216h1v1h-1zM783 215h1v1h-1zM784 214h1v1h-1zM785 213h2v1h-2zM787 212h1v1h-1zM788 211h1v1h-1zM789 210h1v1h-1zM790 209h1v1h-1zM791 208h2v1h-2zM793 207h1v1h-1zM794 206h2v1h-2zM796 205h1v1h-1zM797 204h2v1h-2zM799 203h3v1h-3zM802 202h4v1h-4zM806 201h12v1h-12zM818 202h3v1h-3zM821 203h2v1h-2zM823 204h2v1h-2zM825 205h2v1h-2zM827 206h2v1h-2zM829 207h2v1h-2zM831 208h2v1h-2zM833 209h2v1h-2zM835 210h2v1h-2zM837 211h2v1h-2zM839 212h2v1h-2zM841 213h1v1h-1zM842 214h1v1h-1zM843 215h1v1h-1zM844 216h1v1h-1zM845 217h2v1h-2zM847 218h1v1h-1zM848 219h1v1h-1zM849 220h1v1h-1zM850 221h2v1h-2zM852 222h3v1h-3zM855 223h2v1h-2zM857 224h6v1h-6zM863 223h5v1h-5z" fill="#ff0000"/>
<path d="M4 383h5v1h-5zM9 384h8v1h-8zM17 385h9v1h-9zM26 386h8v1h-8zM34 387h9v1h-9zM43 388h8v1h-8zM51 389h9v1h-9zM60 390h8v1h-8zM68 391h9v1h-9zM77 392h8v1h-8zM85 393h9v1h-9zM94 394h9v1h-9zM103 395h6v1h-6zM109 396h4v1h-4zM113 397h7v1h-7zM120 398h8v1h-8zM128 399h9v1h-9zM137 400h8v1h-8zM145 401h9v1h-9zM154 402h8v1h-8zM162 403h9v1h-9zM171 404h9v1h-9zM180 405h8v1h-8zM188 406h9v1h-9zM197 407h8v1h-8zM205 408h9v1h-9zM214 409h8v1h-8zM222 410h17v1h-17zM239 411h9v1h-9zM248 412h8v1h-8zM256 413h9v1h-9zM265 414h17v1h-17zM282 415h26v1h-26zM308 416h25v1h-25zM333 417h154v1h-154zM487 418h17v1h-17zM504 419h35v1h-35zM539 420h68v1h-68zM607 421h34v1h-34zM641 422h26v1h-26zM667 423h17v1h-17zM684 424h8v1h-8zM692 425h18v1h-18zM710 426h8v1h-8zM718 427h17v1h-17zM735 428h9v1h-9zM744 429h25v1h-25zM769 430h9v1h-9zM778 431h8v1h-8zM786 432h18v1h-18zM804 433h34v1h-34zM838 434h8v1h-8zM846 435h9v1h-9zM855 436h13v1h-13z" fill="#d2aa7d"/>
<path d="M4 505h3v1h-3zM7 506h4v1h-4zM11 507h3v1h-3zM14 508h2v1h-2zM16 509h2v1h-2zM18 510h2v1h-2zM20 511h3v1h-3zM23 512h3v1h-3zM26 513h2v1h-2zM28 514h3v1h-3zM31 515h3v1h-3zM34 516h3v1h-3zM37 517h3v1h-3zM40 518h3v1h-3zM43 519h2v1h-2zM45 520h3v1h-3zM48 521h3v1h-3zM51 522h3v1h-3zM54 523h4v1h-4zM58 524h4v1h-4zM62 525h4v1h-4zM66 526h4v1h-4zM70 527h5v1h-5zM75 528h4v1h-4zM79 529h3v1h-3zM82 530h3v1h-3zM85 531h3v1h-3zM88 532h3v1h-3zM91 533h3v1h-3zM94 534h3v1h-3zM97 535h6v1h-6zM103 536h6v1h-6zM109 537h4v1h-4zM113 538h5v1h-5zM118 539h4v1h-4zM122 540h4v1h-4zM126 541h4v1h-4zM130 542h5v1h-5zM135 543h4v1h-4zM139 544h3v1h-3zM142 545h3v1h-3zM145 546h3v1h-3zM148 547h4v1h-4zM152 548h4v1h-4zM156 549h4v1h-4zM160 550h4v1h-4zM164 551h5v1h-5zM169 552h4v1h-4zM173 553h7v1h-7zM180 554h8v1h-8zM188 555h9v1h-9zM197 556h8v1h-8zM205 557h17v1h-17zM222 556h7v1h-7zM229 555h4v1h-4zM233 554h6v1h-6zM239 553h9v1h-9zM248 552h8v1h-8zM256 551h9v1h-9zM265 550h9v1h-9zM274 549h8v1h-8zM282 548h9v1h-9zM291 547h6v1h-6zM297 546h4v1h-4zM301 545h4v1h-4zM305 544h3v1h-3zM308 543h2v1h-2zM310 542h4v1h-4zM314 541h4v1h-4zM318 540h5v1h-5zM323 539h4v1h-4zM327 538h4v1h-4zM331 537h4v1h-4zM335 536h5v1h-5zM340 535h4v1h-4zM344 534h4v1h-4zM348 533h4v1h-4zM352 532h4v1h-4zM356 531h3v1h-3zM359 530h3v1h-3zM362 529h6v1h-6zM368 528h6v1h-6zM374 527h4v1h-4zM378 526h5v1h-5zM383 525h4v1h-4zM387 524h4v1h-4zM391 523h4v1h-4zM395 522h4v1h-4zM399 521h3v1h-3zM402 520h2v1h-2zM404 519h3v1h-3zM407 518h3v1h-3zM410 517h3v1h-3zM413 516h4v1h-4zM417 515h4v1h-4zM421 514h3v1h-3zM424 513h3v1h-3zM427 512h3v1h-3zM430 511h3v1h-3zM433 510h3v1h-3zM436 509h3v1h-3zM439 508h3v1h-3zM442 507h3v1h-3zM445 506h2v1h-2zM447 505h3v1h-3zM450 504h3v1h-3zM453 503h3v1h-3zM456 502h3v1h-3zM459 501h3v1h-3zM462 500h2v1h-2zM464 499h3v1h-3zM467 498h3v1h-3zM470 497h3v1h-3zM473 496h4v1h-4zM477 495h4v1h-4zM481 494h3v1h-3zM484 493h3v1h-3zM487 492h3v1h-3zM490 491h4v1h-4zM494 490h4v1h-4zM498 489h4v1h-4zM502 488h4v1h-4zM506 487h4v1h-4zM510 486h3v1h-3zM513 485h2v1h-2zM515 484h3v1h-3zM518 483h3v1h-3zM521 482h3v1h-3zM524 481h3v1h-3zM527 480h3v1h-3zM530 479h3v1h-3zM533 478h4v1h-4zM537 477h4v1h-4zM541 476h4v1h-4zM545 475h4v1h-4zM549 474h5v1h-5zM554 473h4v1h-4zM558 472h3v1h-3zM561 471h3v1h-3zM564 470h3v1h-3zM567 469h3v1h-3zM570 468h3v1h-3zM573 467h2v1h-2zM575 466h3v1h-3zM578 465h2v1h-2zM580 464h2v1h-2zM582 463h2v1h-2zM584 462h3v1h-3zM587 461h3v1h-3zM590 460h2v1h-2zM592 459h3v1h-3zM595 458h3v1h-3zM598 457h3v1h-3zM601 456h4v1h-4zM605 455h4v1h-4zM609 454h3v1h-3zM612 453h3v1h-3zM615 452h3v1h-3zM618 451h4v1h-4zM622 450h4v1h-4zM626 449h5v1h-5zM631 448h4v1h-4zM635 447h4v1h-4zM639 446h4v1h-4zM643 445h5v1h-5zM648 444h4v1h-4zM652 443h6v1h-6zM658 442h7v1h-7zM665 441h4v1h-4zM669 440h4v1h-4zM673 439h4v1h-4zM677 438h7v1h-7zM684 437h6v1h-6zM690 436h4v1h-4zM694 435h7v1h-7zM701 434h9v1h-9zM710 433h8v1h-8zM718 432h9v1h-9zM727 431h17v1h-17zM744 430h8v1h-8zM752 429h9v1h-9zM761 428h6v1h-6zM767 427h4v1h-4zM771 426h13v1h-13zM784 425h4v1h-4zM788 424h5v1h-5zM793 423h4v1h-4zM797 422h7v1h-7zM804 421h8v1h-8zM812 420h9v1h-9zM821 419h8v1h-8zM829 418h9v1h-9zM838 417h6v1h-6zM844 416h4v1h-4zM848 415h7v1h-7zM855 414h8v1h-8zM863 413h5v1h-5z" fill="#c0c0c0"/>
<path d="M3 557h14v1h-14zM3 556h20v1h-20zM16 555h10v1h-10zM22 554h6v1h-6zM25 553h6v1h-6zM27 552h7v1h-7zM30 551h7v1h-7zM33 550h6v1h-6zM36 549h5v1h-5zM38 548h5v1h-5zM40 547h4v1h-4zM42 546h4v1h-4zM43 545h5v1h-5zM45 544h5v1h-5zM47 543h5v1h-5zM49 542h5v1h-5zM51 541h9v1h-9zM53 540h24v1h-24zM59 539h15v1h-15zM73 541h6v1h-6zM76 542h44v1h-44zM78 543h33v1h-33zM110 541h18v1h-18zM119 540h16v1h-16zM127 539h12v1h-12zM134 538h8v1h-8zM138 537h7v1h-7zM141 536h7v1h-7zM144 535h6v1h-6zM147 534h5v1h-5zM149 533h5v1h-5zM151 532h4v1h-4zM153 531h4v1h-4zM154 530h4v1h-4zM156 529h4v1h-4zM157 528h4v1h-4zM159 527h4v1h-4zM160 526h4v1h-4zM162 525h4v1h-4zM163 524h5v1h-5zM165 523h5v1h-5zM167 522h5v1h-5zM169 521h5v1h-5zM171 520h5v1h-5zM173 519h5v1h-5zM175 518h5v1h-5zM177 517h4v1h-4zM179 516h4v1h-4zM180 515h4v1h-4zM182 514h3v1h-3zM183 513h4v1h-4zM184 512h4v1h-4zM186 511h3v1h-3zM187 510h4v1h-4zM188 509h4v1h-4zM190 508h3v1h-3zM191 507h4v1h-4zM192 506h5v1h-5zM194 505h4v1h-4zM196 504h4v1h-4zM197 503h4v1h-4zM199 502h3v1h-3zM200 501h4v1h-4zM201 500h4v1h-4zM203 499h3v1h-3zM204 498h4v1h-4zM205 497h4v1h-4zM207 496h3v1h-3zM208 495h4v1h-4zM209 494h4v1h-4zM211 493h3v1h-3zM212 492h4v1h-4zM213 491h4v1h-4zM215 490h3v1h-3zM216 489h4v1h-4zM217 488h5v1h-5zM219 487h5v1h-5zM221 486h5v1h-5zM223 485h4v1h-4zM225 484h4v1h-4zM226 483h4v1h-4zM228 482h3v1h-3zM229 481h4v1h-4zM230 480h4v1h-4zM232 479h3v1h-3zM233 478h3v1h-3zM234 477h4v1h-4zM235 476h4v1h-4zM237 475h3v1h-3zM238 474h4v1h-4zM239 473h4v1h-4zM241 472h3v1h-3zM242 471h3v1h-3zM243 470h3v1h-3zM244 469h4v1h-4zM245 468h4v1h-4zM247 467h3v1h-3zM248 466h3v1h-3zM249 465h3v1h-3zM250 464h3v1h-3zM251 463h4v1h-4zM252 462h4v1h-4zM254 461h3v1h-3zM255 460h4v1h-4zM256 459h4v1h-4zM258 458h4v1h-4zM259 457h5v1h-5zM261 456h5v1h-5zM263 455h5v1h-5zM265 454h6v1h-6zM267 453h7v1h-7zM270 452h6v1h-6zM273 451h5v1h-5zM275 450h5v1h-5zM277 449h4v1h-4zM279 448h4v1h-4zM280 447h4v1h-4zM282 446h4v1h-4zM283 445h4v1h-4zM285 444h4v1h-4zM286 443h4v1h-4zM288 442h3v1h-3zM289 441h4v1h-4zM290 440h4v1h-4zM292 439h3v1h-3zM293 438h3v1h-3zM294 437h4v1h-4zM295 436h4v1h-4zM297 435h3v1h-3zM298 434h4v1h-4zM299 433h4v1h-4zM301 432h3v1h-3zM302 431h3v1h-3zM303 430h3v1h-3zM304 429h4v1h-4zM305 428h4v1h-4zM307 427h3v1h-3zM308 426h3v1h-3zM309 425h3v1h-3zM310 424h3v1h-3zM311 423h4v1h-4zM312 422h4v1h-4zM314 421h3v1h-3zM315 420h4v1h-4zM316 419h4v1h-4zM318 418h3v1h-3zM319 417h4v1h-4zM320 416h4v1h-4zM322 415h3v1h-3zM323 414h4v1h-4zM324 413h4v1h-4zM326 412h3v1h-3zM327 411h3v1h-3zM328 410h3v1h-3zM329 409h3v1h-3zM330 408h4v1h-4zM331 407h4v1h-4zM333 406h3v1h-3zM334 405h3v1h-3zM335 404h3v1h-3zM336 403h4v1h-4zM337 402h5v1h-5zM339 401h4v1h-4zM341 400h4v1h-4zM342 399h4v1h-4zM344 398h4v1h-4zM345 397h5v1h-5zM347 396h5v1h-5zM349 395h5v1h-5zM351 394h4v1h-4zM353 393h4v1h-4zM354 392h5v1h-5zM356 391h5v1h-5zM358 390h5v1h-5zM360 389h4v1h-4zM362 388h4v1h-4zM363 387h4v1h-4zM365 386h3v1h-3zM366 385h4v1h-4zM367 384h4v1h-4zM369 383h5v1h-5zM370 382h8v1h-8zM373 381h8v1h-8zM377 380h6v1h-6zM380 379h5v1h-5zM382 378h4v1h-4zM384 377h4v1h-4zM385 376h4v1h-4zM387 375h4v1h-4zM388 374h4v1h-4zM390 373h4v1h-4zM391 372h4v1h-4zM393 371h4v1h-4zM394 370h4v1h-4zM396 369h4v1h-4zM397 368h5v1h-5zM399 367h4v1h-4zM401 366h4v1h-4zM402 365h5v1h-5zM404 364h5v1h-5zM406 363h5v1h-5zM408 362h5v1h-5zM410 361h6v1h-6zM412 360h7v1h-7zM415 359h6v1h-6zM418 358h6v1h-6zM420 357h6v1h-6zM423 356h5v1h-5zM425 355h5v1h-5zM427 354h6v1h-6zM429 353h6v1h-6zM432 352h5v1h-5zM434 351h5v1h-5zM436 350h5v1h-5zM438 349h5v1h-5zM440 348h5v1h-5zM442 347h4v1h-4zM444 346h4v1h-4zM445 345h6v1h-6zM447 344h8v1h-8zM450 343h10v1h-10zM454 342h10v1h-10zM459 341h9v1h-9zM463 340h9v1h-9zM467 339h12v1h-12zM471 338h42v1h-42zM478 337h41v1h-41zM512 336h11v1h-11zM518 335h9v1h-9zM522 334h7v1h-7zM526 333h5v1h-5zM528 332h5v1h-5zM530 331h6v1h-6zM532 330h6v1h-6zM535 329h5v1h-5zM537 328h5v1h-5zM539 327h5v1h-5zM541 326h6v1h-6zM543 325h7v1h-7zM546 324h7v1h-7zM549 323h7v1h-7zM552 322h6v1h-6zM555 321h7v1h-7zM557 320h9v1h-9zM561 319h12v1h-12zM565 318h14v1h-14zM572 317h11v1h-11zM578 316h10v1h-10zM582 315h10v1h-10zM587 314h8v1h-8zM591 313h7v1h-7zM594 312h7v1h-7zM597 311h8v1h-8zM600 310h9v1h-9zM604 309h9v1h-9zM608 308h9v1h-9zM612 307h10v1h-10zM616 306h10v1h-10zM621 305h31v1h-31zM625 304h8v1h-8zM632 306h16v1h-16zM647 304h8v1h-8zM651 303h7v1h-7zM654 302h7v1h-7zM657 301h10v1h-10zM660 300h26v1h-26zM666 299h16v1h-16zM681 301h8v1h-8zM685 302h7v1h-7zM688 303h7v1h-7zM691 304h7v1h-7zM694 305h6v1h-6zM697 306h5v1h-5zM699 307h5v1h-5zM701 308h5v1h-5zM703 309h5v1h-5zM705 310h5v1h-5zM707 311h4v1h-4zM709 312h4v1h-4zM710 313h4v1h-4zM712 314h4v1h-4zM713 315h5v1h-5zM715 316h5v1h-5zM717 317h5v1h-5zM719 318h5v1h-5zM721 319h5v1h-5zM723 320h5v1h-5zM725 321h5v1h-5zM727 322h5v1h-5zM729 323h5v1h-5zM731 324h5v1h-5zM733 325h5v1h-5zM735 326h6v1h-6zM737 327h6v1h-6zM740 328h5v1h-5zM742 329h5v1h-5zM744 330h5v1h-5zM746 331h5v1h-5zM748 332h5v1h-5zM750 333h5v1h-5zM752 334h6v1h-6zM754 335h6v1h-6zM757 336h5v1h-5zM759 337h5v1h-5zM761 338h4v1h-4zM763 339h4v1h-4zM764 340h5v1h-5zM766 341h5v1h-5zM768 342h5v1h-5zM770 343h5v1h-5zM772 344h5v1h-5zM774 345h5v1h-5zM776 346h5v1h-5zM778 347h5v1h-5zM780 348h6v1h-6zM782 349h7v1h-7zM785 350h7v1h-7zM788 351h7v1h-7zM791 352h7v1h-7zM794 353h8v1h-8zM797 354h9v1h-9zM801 355h8v1h-8zM805 356h7v1h-7zM808 357h7v1h-7zM811 358h7v1h-7zM814 359h7v1h-7zM817 360h6v1h-6zM820 361h6v1h-6zM822 362h7v1h-7zM825 363h7v1h-7zM828 364h7v1h-7zM831 365h7v1h-7zM834 366h6v1h-6zM837 367h6v1h-6zM839 368h7v1h-7zM842 369h7v1h-7zM845 370h7v1h-7zM848 371h7v1h-7zM851 372h6v1h-6zM854 373h14v1h-14zM856 374h12v1h-12z" fill="#bcbcbc"/>
<path d="M4 551h5v1h-5zM9 550h6v1h-6zM15 549h4v1h-4zM19 548h7v1h-7zM26 547h17v1h-17zM43 546h6v1h-6zM49 545h4v1h-4zM53 544h7v1h-7zM60 543h6v1h-6zM66 542h4v1h-4zM70 541h5v1h-5zM75 540h4v1h-4zM79 539h6v1h-6zM85 538h7v1h-7zM92 537h4v1h-4zM96 536h15v1h-15zM111 535h17v1h-17zM128 534h17v1h-17zM145 533h9v1h-9zM154 532h8v1h-8zM162 531h7v1h-7zM169 530h4v1h-4zM173 529h7v1h-7zM180 528h8v1h-8zM188 527h9v1h-9zM197 526h8v1h-8zM205 525h24v1h-24zM229 524h4v1h-4zM233 523h4v1h-4zM237 522h4v1h-4zM241 521h5v1h-5zM246 520h4v1h-4zM250 519h6v1h-6zM256 518h7v1h-7zM263 517h4v1h-4zM267 516h7v1h-7zM274 515h5v1h-5zM279 514h2v1h-2zM281 513h2v1h-2zM283 512h2v1h-2zM285 511h3v1h-3zM288 510h3v1h-3zM291 509h2v1h-2zM293 508h4v1h-4zM297 507h4v1h-4zM301 506h5v1h-5zM306 505h4v1h-4zM310 504h3v1h-3zM313 503h3v1h-3zM316 502h3v1h-3zM319 501h3v1h-3zM322 500h3v1h-3zM325 499h2v1h-2zM327 498h3v1h-3zM330 497h3v1h-3zM333 496h3v1h-3zM336 495h3v1h-3zM339 494h3v1h-3zM342 493h2v1h-2zM344 492h3v1h-3zM347 491h2v1h-2zM349 490h2v1h-2zM351 489h2v1h-2zM353 488h3v1h-3zM356 487h2v1h-2zM358 486h2v1h-2zM360 485h2v1h-2zM362 484h3v1h-3zM365 483h2v1h-2zM367 482h2v1h-2zM369 481h2v1h-2zM371 480h1v1h-1zM372 479h2v1h-2zM374 478h2v1h-2zM376 477h2v1h-2zM378 476h2v1h-2zM380 475h1v1h-1zM381 474h2v1h-2zM383 473h2v1h-2zM385 472h1v1h-1zM386 471h2v1h-2zM388 470h1v1h-1zM389 469h2v1h-2zM391 468h2v1h-2zM393 467h2v1h-2zM395 466h2v1h-2zM397 465h2v1h-2zM399 464h2v1h-2zM401 463h2v1h-2zM403 462h2v1h-2zM405 461h2v1h-2zM407 460h2v1h-2zM409 459h2v1h-2zM411 458h2v1h-2zM413 457h4v1h-4zM417 456h4v1h-4zM421 455h3v1h-3zM424 454h3v1h-3zM427 453h3v1h-3zM430 452h3v1h-3zM433 451h2v1h-2zM435 450h2v1h-2zM437 449h2v1h-2zM439 448h3v1h-3zM442 447h3v1h-3zM445 446h2v1h-2zM447 445h3v1h-3zM450 444h3v1h-3zM453 443h3v1h-3zM456 442h3v1h-3zM459 441h2v1h-2zM461 440h2v1h-2zM463 439h2v1h-2zM465 438h2v1h-2zM467 437h3v1h-3zM470 436h3v1h-3zM473 435h3v1h-3zM476 434h3v1h-3zM479 433h2v1h-2zM481 432h4v1h-4zM485 431h4v1h-4zM489 430h4v1h-4zM493 429h3v1h-3zM496 428h2v1h-2zM498 427h3v1h-3zM501 426h2v1h-2zM503 425h2v1h-2zM505 424h2v1h-2zM507 423h3v1h-3zM510 422h2v1h-2zM512 421h2v1h-2zM514 420h2v1h-2zM516 419h1v1h-1zM517 418h2v1h-2zM519 417h2v1h-2zM521 416h2v1h-2zM523 415h2v1h-2zM525 414h1v1h-1zM526 413h2v1h-2zM528 412h2v1h-2zM530 411h2v1h-2zM532 410h2v1h-2zM534 409h2v1h-2zM536 408h2v1h-2zM538 407h2v1h-2zM540 406h2v1h-2zM542 405h1v1h-1zM543 404h2v1h-2zM545 403h2v1h-2zM547 402h2v1h-2zM549 401h2v1h-2zM551 400h1v1h-1zM552 399h2v1h-2zM554 398h2v1h-2zM556 397h1v1h-1zM557 396h2v1h-2zM559 395h2v1h-2zM561 394h2v1h-2zM563 393h2v1h-2zM565 392h2v1h-2zM567 391h3v1h-3zM570 390h2v1h-2zM572 389h2v1h-2zM574 388h2v1h-2zM576 387h1v1h-1zM577 386h2v1h-2zM579 385h2v1h-2zM581 384h2v1h-2zM583 383h2v1h-2zM585 382h2v1h-2zM587 381h2v1h-2zM589 380h2v1h-2zM591 379h2v1h-2zM593 378h2v1h-2zM595 377h2v1h-2zM597 376h2v1h-2zM599 375h2v1h-2zM601 374h3v1h-3zM604 373h3v1h-3zM607 372h2v1h-2zM609 371h3v1h-3zM612 370h3v1h-3zM615 369h3v1h-3zM618 368h3v1h-3zM621 367h2v1h-2zM623 366h2v1h-2zM625 365h2v1h-2zM627 364h3v1h-3zM630 363h3v1h-3zM633 362h2v1h-2zM635 361h3v1h-3zM638 360h3v1h-3zM641 359h3v1h-3zM644 358h3v1h-3zM647 357h3v1h-3zM650 356h2v1h-2zM652 355h3v1h-3zM655 354h3v1h-3zM658 353h3v1h-3zM661 352h4v1h-4zM665 351h4v1h-4zM669 350h4v1h-4zM673 349h4v1h-4zM677 348h5v1h-5zM682 347h4v1h-4zM686 346h6v1h-6zM692 345h7v1h-7zM699 344h4v1h-4zM703 343h7v1h-7zM710 342h8v1h-8zM718 341h7v1h-7zM725 340h4v1h-4zM729 339h15v1h-15zM744 338h8v1h-8zM752 337h17v1h-17zM769 336h7v1h-7zM776 335h4v1h-4zM780 334h15v1h-15zM795 333h17v1h-17zM812 334h17v1h-17zM829 335h17v1h-17zM846 336h9v1h-9zM855 337h8v1h-8zM863 338h5v1h-5z" fill="#0000ff"/>
<path d="M4 558h1v1h-1zM5 559h1v2h-1zM6 561h1v2h-1zM7 563h1v1h-1zM8 564h1v2h-1zM9 566h1v1h-1zM10 567h1v2h-1zM11 569h1v2h-1zM12 571h2v1h-2zM14 572h2v1h-2zM16 573h2v1h-2zM18 574h2v1h-2zM20 575h3v1h-3zM23 574h3v1h-3zM26 573h2v1h-2zM28 572h2v1h-2zM30 571h2v1h-2zM32 570h2v1h-2zM34 569h2v1h-2zM36 568h2v1h-2zM38 567h1v1h-1zM39 566h2v1h-2zM41 565h2v1h-2zM43 564h1v1h-1zM44 563h2v1h-2zM46 562h1v1h-1zM47 561h1v1h-1zM48 560h1v1h-1zM49 559h1v1h-1zM50 558h2v1h-2zM52 557h1v1h-1zM53 556h1v1h-1zM54 555h1v1h-1zM55 554h1v1h-1zM56 553h1v1h-1zM57 552h1v1h-1zM58 551h1v1h-1zM59 549h1v2h-1zM60 548h1v1h-1zM61 547h1v1h-1zM62 546h1v1h-1zM63 545h2v1h-2zM65 546h3v1h-3zM68 547h3v1h-3zM71 548h4v1h-4zM75 547h4v1h-4zM79 546h4v1h-4zM83 545h4v1h-4zM87 544h3v1h-3zM90 543h1v1h-1zM91 542h1v1h-1zM92 541h1v1h-1zM93 540h2v1h-2zM95 539h1v1h-1zM96 538h1v1h-1zM97 537h1v1h-1zM98 536h1v1h-1zM99 534h1v2h-1zM100 533h1v1h-1zM101 531h1v2h-1zM102 530h1v1h-1zM103 528h1v2h-1zM104 527h1v1h-1zM105 525h1v2h-1zM106 524h1v1h-1zM107 522h1v2h-1zM108 520h1v2h-1zM109 519h1v1h-1zM110 517h1v2h-1zM111 515h1v2h-1zM112 514h1v1h-1zM113 512h1v2h-1zM114 510h1v2h-1zM115 509h1v1h-1zM116 508h1v1h-1zM117 506h1v2h-1zM118 505h1v1h-1zM119 504h1v1h-1zM120 503h1v1h-1zM121 501h1v2h-1zM122 500h1v1h-1zM123 499h1v1h-1zM124 498h1v1h-1zM125 497h2v1h-2zM127 496h1v1h-1zM128 495h1v1h-1zM129 494h2v1h-2zM131 493h1v1h-1zM132 492h3v1h-3zM135 493h4v1h-4zM139 494h6v1h-6zM145 495h7v1h-7zM152 494h4v1h-4zM156 493h3v1h-3zM159 492h2v1h-2zM161 491h2v1h-2zM163 490h2v1h-2zM165 489h3v1h-3zM168 488h3v1h-3zM171 487h3v1h-3zM174 486h2v1h-2zM176 485h1v1h-1zM177 484h1v1h-1zM178 483h1v1h-1zM179 481h1v2h-1zM180 480h1v1h-1zM181 479h1v1h-1zM182 478h1v1h-1zM183 477h1v1h-1zM184 476h1v1h-1zM185 475h1v1h-1zM186 474h1v1h-1zM187 473h2v1h-2zM189 472h1v1h-1zM190 471h1v1h-1zM191 470h1v1h-1zM192 469h1v1h-1zM193 468h1v1h-1zM194 467h1v1h-1zM195 466h1v1h-1zM196 465h1v1h-1zM197 464h1v1h-1zM198 463h1v1h-1zM199 462h1v1h-1zM200 461h1v1h-1zM201 460h1v1h-1zM202 459h1v1h-1zM203 458h1v1h-1zM204 456h1v2h-1zM205 455h1v1h-1zM206 454h1v1h-1zM207 453h1v1h-1zM208 452h1v1h-1zM209 451h1v1h-1zM210 449h1v2h-1zM211 448h1v1h-1zM212 446h1v2h-1zM213 445h1v1h-1zM214 443h1v2h-1zM215 442h1v1h-1zM216 440h1v2h-1zM217 439h1v1h-1zM218 438h1v1h-1zM219 437h1v1h-1zM220 436h1v1h-1zM221 435h1v1h-1zM222 434h1v1h-1zM223 433h1v1h-1zM224 432h1v1h-1zM225 431h1v1h-1zM226 430h2v1h-2zM228 429h3v1h-3zM231 428h2v1h-2zM233 427h3v1h-3zM236 426h3v1h-3zM239 425h3v1h-3zM242 424h2v1h-2zM244 423h2v1h-2zM246 422h1v1h-1zM247 421h1v1h-1zM248 420h2v1h-2zM250 419h1v1h-1zM251 418h2v1h-2zM253 417h2v1h-2zM255 416h2v1h-2zM257 415h2v1h-2zM259 414h6v1h-6zM265 413h9v1h-9zM274 412h4v1h-4zM278 411h1v1h-1zM279 410h1v1h-1zM280 409h1v1h-1zM281 408h1v1h-1zM282 407h1v1h-1zM283 406h1v1h-1zM284 405h1v1h-1zM285 404h1v1h-1zM286 403h1v1h-1zM287 402h2v1h-2zM289 401h2v1h-2zM291 400h1v1h-1zM292 399h2v1h-2zM294 398h1v1h-1zM295 397h1v1h-1zM296 395h1v2h-1zM297 394h1v1h-1zM298 393h1v1h-1zM299 392h1v1h-1zM300 391h1v1h-1zM301 389h1v2h-1zM302 388h1v1h-1zM303 387h1v1h-1zM304 385h1v2h-1zM305 383h1v2h-1zM306 382h1v1h-1zM307 380h1v2h-1zM308 379h1v1h-1zM309 377h1v2h-1zM310 375h1v2h-1zM311 374h1v1h-1zM312 372h1v2h-1zM313 371h1v1h-1zM314 369h1v2h-1zM315 368h1v1h-1zM316 367h1v1h-1zM317 365h1v2h-1zM318 364h1v1h-1zM319 362h1v2h-1zM320 361h1v1h-1zM321 360h2v1h-2zM323 359h1v1h-1zM324 358h1v1h-1zM325 357h2v1h-2zM327 356h1v1h-1zM328 355h1v1h-1zM329 354h2v1h-2zM331 353h2v1h-2zM333 352h2v1h-2zM335 351h2v1h-2zM337 350h2v1h-2zM339 351h3v1h-3zM342 352h2v1h-2zM344 353h6v1h-6zM350 354h9v1h-9zM359 355h17v1h-17zM376 356h5v1h-5zM381 355h2v1h-2zM383 354h1v1h-1zM384 353h1v1h-1zM385 352h2v1h-2zM387 351h1v1h-1zM388 350h1v1h-1zM389 349h1v1h-1zM390 348h1v1h-1zM391 347h1v1h-1zM392 346h1v1h-1zM393 345h1v1h-1zM394 344h1v1h-1zM395 343h1v1h-1zM396 342h1v1h-1zM397 341h1v1h-1zM398 340h1v1h-1zM399 339h1v1h-1zM400 338h1v1h-1zM401 337h1v1h-1zM402 336h1v1h-1zM403 335h1v1h-1zM404 334h1v1h-1zM405 333h2v1h-2zM407 332h3v1h-3zM410 331h3v1h-3zM413 330h3v1h-3zM416 329h3v1h-3zM419 328h2v1h-2zM421 327h6v1h-6zM427 326h6v1h-6zM433 327h2v1h-2zM435 328h2v1h-2zM437 329h2v1h-2zM439 330h6v1h-6zM445 331h13v1h-13zM458 330h2v1h-2zM460 329h1v1h-1zM461 328h1v1h-1zM462 327h2v1h-2zM464 326h1v1h-1zM465 325h3v1h-3zM468 324h4v1h-4zM472 323h7v1h-7zM479 322h4v1h-4zM483 323h1v1h-1zM484 324h1v2h-1zM485 326h1v1h-1zM486 327h1v1h-1zM487 328h1v1h-1zM488 329h1v1h-1zM489 330h1v2h-1zM490 332h1v1h-1zM491 333h1v1h-1zM492 334h1v1h-1zM493 335h1v1h-1zM494 336h1v1h-1zM495 337h1v1h-1zM496 338h1v1h-1zM497 339h1v1h-1zM498 340h1v1h-1zM499 341h2v1h-2zM501 342h2v1h-2zM503 343h2v1h-2zM505 344h2v1h-2zM507 345h4v1h-4zM511 346h4v1h-4zM515 347h6v1h-6zM521 346h5v1h-5zM526 344h1v2h-1zM527 342h1v2h-1zM528 340h1v2h-1zM529 338h1v2h-1zM530 337h1v1h-1zM531 335h1v2h-1zM532 333h1v2h-1zM533 331h1v2h-1zM534 329h1v2h-1zM535 327h1v2h-1zM536 325h1v2h-1zM537 323h1v2h-1zM538 321h1v2h-1zM539 319h1v2h-1zM540 317h1v2h-1zM541 315h1v2h-1zM542 313h1v2h-1zM543 311h1v2h-1zM544 310h1v1h-1zM545 308h1v2h-1zM546 306h1v2h-1zM547 305h1v1h-1zM548 303h1v2h-1zM549 302h1v1h-1zM550 300h1v2h-1zM551 299h1v1h-1zM552 297h1v2h-1zM553 296h1v1h-1zM554 295h1v1h-1zM555 293h1v2h-1zM556 292h1v1h-1zM557 291h1v1h-1zM558 289h1v2h-1zM559 288h1v1h-1zM560 287h1v1h-1zM561 285h1v2h-1zM562 284h1v1h-1zM563 283h1v1h-1zM564 282h1v1h-1zM565 281h1v1h-1zM566 279h1v2h-1zM567 278h1v1h-1zM568 277h2v1h-2zM570 276h3v1h-3zM573 275h2v1h-2zM575 274h6v1h-6zM581 275h5v1h-5zM586 276h2v1h-2zM588 277h1v1h-1zM589 278h1v1h-1zM590 279h2v1h-2zM592 280h1v1h-1zM593 281h1v1h-1zM594 282h1v1h-1zM595 283h2v1h-2zM597 284h1v1h-1zM598 285h1v1h-1zM599 286h2v1h-2zM601 287h1v1h-1zM602 288h2v1h-2zM604 289h3v1h-3zM607 290h2v1h-2zM609 291h6v1h-6zM615 290h6v1h-6zM621 291h2v1h-2zM623 292h2v1h-2zM625 293h2v1h-2zM627 294h3v1h-3zM630 295h2v1h-2zM632 296h2v1h-2zM634 297h2v1h-2zM636 298h3v1h-3zM639 299h4v1h-4zM643 300h7v1h-7zM650 301h5v1h-5zM655 302h2v1h-2zM657 303h2v1h-2zM659 304h2v1h-2zM661 305h2v1h-2zM663 306h1v1h-1zM664 307h1v2h-1zM665 309h1v1h-1zM666 310h1v1h-1zM667 311h1v1h-1zM668 312h1v2h-1zM669 314h1v1h-1zM670 315h2v1h-2zM672 316h2v1h-2zM674 317h2v1h-2zM676 318h2v1h-2zM678 319h2v1h-2zM680 320h1v2h-1zM681 322h1v2h-1zM682 324h1v2h-1zM683 326h1v1h-1zM684 327h1v2h-1zM685 329h1v2h-1zM686 331h1v2h-1zM687 333h1v1h-1zM688 334h1v2h-1zM689 336h1v2h-1zM690 338h1v2h-1zM691 340h1v2h-1zM692 342h1v2h-1zM693 344h1v2h-1zM694 346h1v2h-1zM695 348h1v2h-1zM696 350h1v1h-1zM697 351h1v1h-1zM698 352h1v1h-1zM699 353h1v1h-1zM700 354h1v2h-1zM701 356h1v1h-1zM702 357h1v1h-1zM703 358h1v1h-1zM704 359h1v1h-1zM705 360h1v1h-1zM706 361h1v1h-1zM707 362h1v1h-1zM708 363h1v1h-1zM709 364h1v2h-1zM710 366h1v1h-1zM711 367h1v1h-1zM712 368h1v1h-1zM713 369h1v1h-1zM714 370h2v1h-2zM716 371h1v1h-1zM717 372h2v1h-2zM719 373h1v1h-1zM720 374h2v1h-2zM722 375h1v1h-1zM723 374h1v1h-1zM724 373h1v1h-1zM725 372h1v1h-1zM726 371h1v1h-1zM727 370h1v1h-1zM728 369h1v1h-1zM729 368h1v1h-1zM730 367h2v1h-2zM732 366h3v1h-3zM735 365h3v1h-3zM738 364h3v1h-3zM741 365h2v1h-2zM743 366h2v1h-2zM745 367h2v1h-2zM747 368h1v1h-1zM748 367h1v1h-1zM749 366h1v1h-1zM750 365h1v1h-1zM751 364h2v1h-2zM753 363h1v1h-1zM754 362h1v1h-1zM755 361h1v1h-1zM756 360h1v1h-1zM757 361h2v1h-2zM759 362h2v1h-2zM761 363h1v1h-1zM762 364h2v1h-2zM764 365h1v1h-1zM765 366h1v1h-1zM766 367h1v1h-1zM767 368h1v1h-1zM768 369h1v1h-1zM769 370h1v1h-1zM770 371h1v1h-1zM771 372h1v1h-1zM772 373h1v1h-1zM773 374h5v1h-5zM778 375h5v1h-5zM783 374h3v1h-3zM786 373h3v1h-3zM789 372h4v1h-4zM793 371h4v1h-4zM797 370h3v1h-3zM800 369h1v1h-1zM801 367h1v2h-1zM802 366h1v1h-1zM803 365h1v1h-1zM804 364h1v1h-1zM805 362h1v2h-1zM806 361h1v1h-1zM807 360h1v1h-1zM808 359h2v1h-2zM810 358h1v1h-1zM811 357h2v1h-2zM813 356h1v1h-1zM814 355h2v1h-2zM816 354h5v1h-5zM821 355h4v1h-4zM825 356h1v1h-1zM826 357h2v1h-2zM828 358h1v1h-1zM829 359h1v1h-1zM830 360h2v1h-2zM832 361h1v1h-1zM833 362h1v1h-1zM834 363h1v1h-1zM835 364h1v2h-1zM836 366h1v1h-1zM837 367h1v1h-1zM838 368h1v1h-1zM839 369h1v2h-1zM840 371h1v1h-1zM841 372h1v1h-1zM842 373h1v2h-1zM843 375h1v1h-1zM844 376h1v2h-1zM845 378h1v2h-1zM846 380h1v1h-1zM847 381h1v2h-1zM848 383h1v1h-1zM849 384h1v2h-1zM850 386h1v1h-1zM851 387h1v1h-1zM852 388h1v2h-1zM853 390h1v1h-1zM854 391h1v1h-1zM855 392h1v1h-1zM856 393h1v2h-1zM857 395h1v1h-1zM858 396h1v1h-1zM859 397h1v1h-1zM860 398h1v1h-1zM861 399h1v1h-1zM862 400h2v1h-2zM864 401h1v1h-1zM865 402h1v1h-1zM866 403h1v1h-1zM867 404h1v1h-1z" fill="#2db369"/>
<rect x="4" y="558" width="1" height="24" fill="#ff0000"/>
<rect x="1" y="571" width="7" height="5" fill="#ff0000"/>
<rect x="12" y="562" width="1" height="2" fill="#0000ff"/>
<rect x="12" y="578" width="1" height="2" fill="#0000ff"/>
<path d="M9 564h8v14h-8zM10 565v12h6v-12z" fill="#0000ff" fill-rule="evenodd"/>
<rect x="21" y="562" width="1" height="28" fill="#ff0000"/>
<rect x="18" y="584" width="7" height="5" fill="#ff0000"/>
<rect x="29" y="546" width="1" height="45" fill="#ff0000"/>
<rect x="26" y="546" width="8" height="43" fill="#ff0000"/>
<rect x="38" y="521" width="1" height="10" fill="#0000ff"/>
<rect x="38" y="559" width="1" height="4" fill="#0000ff"/>
<path d="M35 531h7v28h-7zM36 532v26h5v-26z" fill="#0000ff" fill-rule="evenodd"/>
<rect x="46" y="538" width="1" height="14" fill="#ff0000"/>
<rect x="43" y="545" width="8" height="6" fill="#ff0000"/>
<rect x="55" y="532" width="1" height="2" fill="#0000ff"/>
<rect x="55" y="540" width="1" height="8" fill="#0000ff"/>
<path d="M52 534h7v6h-7zM53 535v4h5v-4z" fill="#0000ff" fill-rule="evenodd"/>
<rect x="63" y="530" width="1" height="5" fill="#0000ff"/>
<rect x="63" y="538" width="1" height="3" fill="#0000ff"/>
<path d="M60 535h8v3h-8zM61 536v1h6v-1z" fill="#0000ff" fill-rule="evenodd"/>
<rect x="72" y="535" width="1" height="5" fill="#0000ff"/>
<path d="M69 540h7v24h-7zM70 541v22h5v-22z" fill="#0000ff" fill-rule="evenodd"/>
<rect x="80" y="546" width="1" height="16" fill="#ff0000"/>
<rect x="77" y="546" width="8" height="10" fill="#ff0000"/>
<rect x="89" y="535" width="1" height="18" fill="#ff0000"/>
<rect x="86" y="535" width="8" height="8" fill="#ff0000"/>
<rect x="98" y="497" width="1" height="39" fill="#ff0000"/>
<rect x="95" y="497" width="7" height="39" fill="#ff0000"/>
<rect x="106" y="475" width="1" height="15" fill="#ff0000"/>
<rect x="103" y="478" width="8" height="10" fill="#ff0000"/>
<rect x="115" y="479" width="1" height="4" fill="#0000ff"/>
<rect x="115" y="491" width="1" height="5" fill="#0000ff"/>
<path d="M112 483h7v8h-7zM113 484v6h5v-6z" fill="#0000ff" fill-rule="evenodd"/>
<rect x="123" y="486" width="1" height="2" fill="#0000ff"/>
<rect x="123" y="494" width="1" height="12" fill="#0000ff"/>
<path d="M120 488h8v6h-8zM121 489v4h6v-4z" fill="#0000ff" fill-rule="evenodd"/>
<rect x="132" y="481" width="1" height="8" fill="#0000ff"/>
<rect x="132" y="502" width="1" height="10" fill="#0000ff"/>
<path d="M129 489h7v13h-7zM130 490v11h5v-11z" fill="#0000ff" fill-rule="evenodd"/>
<rect x="140" y="497" width="1" height="3" fill="#0000ff"/>
<rect x="140" y="511" width="1" height="6" fill="#0000ff"/>
<path d="M137 500h8v11h-8zM138 501v9h6v-9z" fill="#0000ff" fill-rule="evenodd"/>
<rect x="149" y="473" width="1" height="26" fill="#ff0000"/>
<rect x="146" y="479" width="7" height="16" fill="#ff0000"/>
<rect x="157" y="475" width="1" height="16" fill="#ff0000"/>
<rect x="154" y="481" width="8" height="2" fill="#ff0000"/>
<rect x="166" y="459" width="1" height="23" fill="#ff0000"/>
<rect x="163" y="475" width="8" height="5" fill="#ff0000"/>
<rect x="175" y="461" width="1" height="1" fill="#0000ff"/>
<rect x="175" y="484" width="1" height="17" fill="#0000ff"/>
<path d="M172 462h7v22h-7zM173 463v20h5v-20z" fill="#0000ff" fill-rule="evenodd"/>
<rect x="183" y="464" width="1" height="27" fill="#ff0000"/>
<rect x="180" y="466" width="8" height="23" fill="#ff0000"/>
<rect x="192" y="440" width="1" height="16" fill="#ff0000"/>
<rect x="189" y="442" width="7" height="8" fill="#ff0000"/>
<rect x="200" y="428" width="1" height="25" fill="#ff0000"/>
<rect x="197" y="438" width="8" height="6" fill="#ff0000"/>
<rect x="209" y="424" width="1" height="18" fill="#ff0000"/>
<rect x="206" y="424" width="7" height="10" fill="#ff0000"/>
<rect x="217" y="421" width="1" height="14" fill="#0000ff"/>
<rect x="214" y="426" width="8" height="2" fill="#0000ff"/>
<rect x="226" y="413" width="1" height="26" fill="#ff0000"/>
<rect x="223" y="420" width="7" height="12" fill="#ff0000"/>
<rect x="234" y="424" width="1" height="17" fill="#ff0000"/>
<rect x="231" y="424" width="8" height="11" fill="#ff0000"/>
<rect x="243" y="416" width="1" height="1" fill="#0000ff"/>
<rect x="243" y="424" width="1" height="12" fill="#0000ff"/>
<path d="M240 417h7v7h-7zM241 418v5h5v-5z" fill="#0000ff" fill-rule="evenodd"/>
<rect x="251" y="394" width="1" height="27" fill="#ff0000"/>
<rect x="248" y="398" width="8" height="19" fill="#ff0000"/>
<rect x="260" y="391" width="1" height="19" fill="#ff0000"/>
<rect x="257" y="404" width="8" height="2" fill="#ff0000"/>
<rect x="269" y="408" width="1" height="8" fill="#0000ff"/>
<rect x="269" y="419" width="1" height="7" fill="#0000ff"/>
<path d="M266 416h7v3h-7zM267 417v1h5v-1z" fill="#0000ff" fill-rule="evenodd"/>
<rect x="277" y="399" width="1" height="10" fill="#0000ff"/>
<rect x="277" y="416" width="1" height="2" fill="#0000ff"/>
<path d="M274 409h8v7h-8zM275 410v5h6v-5z" fill="#0000ff" fill-rule="evenodd"/>
<rect x="286" y="379" width="1" height="32" fill="#ff0000"/>
<rect x="283" y="382" width="7" height="29" fill="#ff0000"/>
<rect x="294" y="371" width="1" height="13" fill="#ff0000"/>
<rect x="291" y="373" width="8" height="5" fill="#ff0000"/>
<rect x="303" y="349" width="1" height="28" fill="#ff0000"/>
<rect x="300" y="349" width="7" height="26" fill="#ff0000"/>
<rect x="311" y="346" width="1" height="15" fill="#ff0000"/>
<rect x="308" y="350" width="8" height="4" fill="#ff0000"/>
<rect x="320" y="345" width="1" height="3" fill="#0000ff"/>
<rect x="320" y="353" width="1" height="15" fill="#0000ff"/>
<path d="M317 348h7v5h-7zM318 349v3h5v-3z" fill="#0000ff" fill-rule="evenodd"/>
<rect x="328" y="336" width="1" height="6" fill="#0000ff"/>
<rect x="328" y="354" width="1" height="3" fill="#0000ff"/>
<path d="M325 342h8v12h-8zM326 343v10h6v-10z" fill="#0000ff" fill-rule="evenodd"/>
<rect x="337" y="334" width="1" height="20" fill="#ff0000"/>
<rect x="334" y="345" width="7" height="2" fill="#ff0000"/>
<rect x="345" y="354" width="1" height="3" fill="#0000ff"/>
<rect x="345" y="366" width="1" height="9" fill="#0000ff"/>
<path d="M342 357h8v9h-8zM343 358v7h6v-7z" fill="#0000ff" fill-rule="evenodd"/>
<rect x="354" y="348" width="1" height="5" fill="#0000ff"/>
<rect x="354" y="356" width="1" height="7" fill="#0000ff"/>
<path d="M351 353h8v3h-8zM352 354v1h6v-1z" fill="#0000ff" fill-rule="evenodd"/>
<rect x="363" y="345" width="1" height="19" fill="#ff0000"/>
<rect x="360" y="358" width="7" height="4" fill="#ff0000"/>
<rect x="371" y="336" width="1" height="5" fill="#0000ff"/>
<rect x="371" y="352" width="1" height="5" fill="#0000ff"/>
<path d="M368 341h8v11h-8zM369 342v9h6v-9z" fill="#0000ff" fill-rule="evenodd"/>
<rect x="380" y="353" width="1" height="21" fill="#ff0000"/>
<rect x="377" y="353" width="7" height="19" fill="#ff0000"/>
<rect x="388" y="326" width="1" height="17" fill="#ff0000"/>
<rect x="385" y="332" width="8" height="9" fill="#ff0000"/>
<rect x="397" y="309" width="1" height="16" fill="#ff0000"/>
<rect x="394" y="311" width="7" height="13" fill="#ff0000"/>
<rect x="405" y="306" width="1" height="7" fill="#0000ff"/>
<rect x="405" y="320" width="1" height="8" fill="#0000ff"/>
<path d="M402 313h8v7h-8zM403 314v5h6v-5z" fill="#0000ff" fill-rule="evenodd"/>
<rect x="414" y="334" width="1" height="5" fill="#0000ff"/>
<path d="M411 318h7v16h-7zM412 319v14h5v-14z" fill="#0000ff" fill-rule="evenodd"/>
<rect x="422" y="320" width="1" height="14" fill="#0000ff"/>
<rect x="422" y="341" width="1" height="16" fill="#0000ff"/>
<path d="M419 334h8v7h-8zM420 335v5h6v-5z" fill="#0000ff" fill-rule="evenodd"/>
<rect x="431" y="323" width="1" height="15" fill="#0000ff"/>
<rect x="428" y="327" width="8" height="2" fill="#0000ff"/>
<rect x="440" y="329" width="1" height="25" fill="#ff0000"/>
<rect x="437" y="332" width="7" height="8" fill="#ff0000"/>
<rect x="448" y="321" width="1" height="19" fill="#ff0000"/>
<rect x="445" y="324" width="8" height="5" fill="#ff0000"/>
<rect x="457" y="306" width="1" height="12" fill="#0000ff"/>
<rect x="457" y="331" width="1" height="3" fill="#0000ff"/>
<path d="M454 318h7v13h-7zM455 319v11h5v-11z" fill="#0000ff" fill-rule="evenodd"/>
<rect x="465" y="310" width="1" height="28" fill="#ff0000"/>
<rect x="462" y="312" width="8" height="24" fill="#ff0000"/>
<rect x="474" y="309" width="1" height="2" fill="#0000ff"/>
<rect x="474" y="317" width="1" height="4" fill="#0000ff"/>
<path d="M471 311h7v6h-7zM472 312v4h5v-4z" fill="#0000ff" fill-rule="evenodd"/>
<rect x="482" y="320" width="1" height="6" fill="#0000ff"/>
<rect x="482" y="329" width="1" height="11" fill="#0000ff"/>
<path d="M479 326h8v3h-8zM480 327v1h6v-1z" fill="#0000ff" fill-rule="evenodd"/>
<rect x="491" y="334" width="1" height="1" fill="#0000ff"/>
<path d="M488 335h7v44h-7zM489 336v42h5v-42z" fill="#0000ff" fill-rule="evenodd"/>
<rect x="499" y="367" width="1" height="15" fill="#ff0000"/>
<rect x="496" y="370" width="8" height="8" fill="#ff0000"/>
<rect x="508" y="334" width="1" height="29" fill="#ff0000"/>
<rect x="505" y="335" width="7" height="25" fill="#ff0000"/>
<rect x="516" y="318" width="1" height="18" fill="#ff0000"/>
<rect x="513" y="325" width="8" height="8" fill="#ff0000"/>
<rect x="525" y="318" width="1" height="14" fill="#ff0000"/>
<rect x="522" y="321" width="8" height="7" fill="#ff0000"/>
<rect x="534" y="295" width="1" height="17" fill="#ff0000"/>
<rect x="531" y="300" width="7" height="10" fill="#ff0000"/>
<rect x="542" y="278" width="1" height="16" fill="#ff0000"/>
<rect x="539" y="282" width="8" height="12" fill="#ff0000"/>
<rect x="551" y="267" width="1" height="17" fill="#ff0000"/>
<rect x="548" y="269" width="7" height="11" fill="#ff0000"/>
<rect x="559" y="258" width="1" height="11" fill="#ff0000"/>
<rect x="556" y="266" width="8" height="3" fill="#ff0000"/>
<rect x="568" y="266" width="1" height="13" fill="#ff0000"/>
<rect x="565" y="266" width="7" height="4" fill="#ff0000"/>
<rect x="576" y="289" width="1" height="5" fill="#0000ff"/>
<path d="M573 273h8v16h-8zM574 274v14h6v-14z" fill="#0000ff" fill-rule="evenodd"/>
<rect x="585" y="275" width="1" height="5" fill="#0000ff"/>
<rect x="585" y="285" width="1" height="13" fill="#0000ff"/>
<path d="M582 280h7v5h-7zM583 281v3h5v-3z" fill="#0000ff" fill-rule="evenodd"/>
<rect x="593" y="284" width="1" height="4" fill="#0000ff"/>
<rect x="593" y="304" width="1" height="10" fill="#0000ff"/>
<path d="M590 288h8v16h-8zM591 289v14h6v-14z" fill="#0000ff" fill-rule="evenodd"/>
<rect x="602" y="294" width="1" height="25" fill="#ff0000"/>
<rect x="599" y="300" width="7" height="3" fill="#ff0000"/>
<rect x="610" y="278" width="1" height="28" fill="#ff0000"/>
<rect x="607" y="282" width="8" height="14" fill="#ff0000"/>
<rect x="619" y="267" width="1" height="10" fill="#0000ff"/>
<path d="M616 277h8v7h-8zM617 278v5h6v-5z" fill="#0000ff" fill-rule="evenodd"/>
<rect x="628" y="276" width="1" height="11" fill="#0000ff"/>
<path d="M625 287h7v14h-7zM626 288v12h5v-12z" fill="#0000ff" fill-rule="evenodd"/>
<rect x="636" y="301" width="1" height="3" fill="#0000ff"/>
<rect x="636" y="327" width="1" height="7" fill="#0000ff"/>
<path d="M633 304h8v23h-8zM634 305v21h6v-21z" fill="#0000ff" fill-rule="evenodd"/>
<rect x="645" y="308" width="1" height="13" fill="#ff0000"/>
<rect x="642" y="311" width="7" height="6" fill="#ff0000"/>
<rect x="653" y="287" width="1" height="31" fill="#ff0000"/>
<rect x="650" y="287" width="8" height="19" fill="#ff0000"/>
<rect x="662" y="282" width="1" height="6" fill="#0000ff"/>
<path d="M659 288h7v16h-7zM660 289v14h5v-14z" fill="#0000ff" fill-rule="evenodd"/>
<rect x="670" y="311" width="1" height="1" fill="#0000ff"/>
<rect x="670" y="347" width="1" height="2" fill="#0000ff"/>
<path d="M667 312h8v35h-8zM668 313v33h6v-33z" fill="#0000ff" fill-rule="evenodd"/>
<rect x="679" y="337" width="1" height="1" fill="#0000ff"/>
<rect x="679" y="348" width="1" height="20" fill="#0000ff"/>
<path d="M676 338h7v10h-7zM677 339v8h5v-8z" fill="#0000ff" fill-rule="evenodd"/>
<rect x="687" y="356" width="1" height="9" fill="#0000ff"/>
<path d="M684 365h8v20h-8zM685 366v18h6v-18z" fill="#0000ff" fill-rule="evenodd"/>
<rect x="696" y="359" width="1" height="25" fill="#ff0000"/>
<rect x="693" y="369" width="8" height="11" fill="#ff0000"/>
<rect x="705" y="350" width="1" height="24" fill="#ff0000"/>
<rect x="702" y="354" width="7" height="8" fill="#ff0000"/>
<rect x="713" y="354" width="1" height="3" fill="#0000ff"/>
<rect x="713" y="390" width="1" height="6" fill="#0000ff"/>
<path d="M710 357h8v33h-8zM711 358v31h6v-31z" fill="#0000ff" fill-rule="evenodd"/>
<rect x="722" y="369" width="1" height="27" fill="#ff0000"/>
<rect x="719" y="380" width="7" height="15" fill="#ff0000"/>
<rect x="730" y="342" width="1" height="39" fill="#ff0000"/>
<rect x="727" y="342" width="8" height="39" fill="#ff0000"/>
<rect x="739" y="340" width="1" height="6" fill="#0000ff"/>
<rect x="739" y="358" width="1" height="3" fill="#0000ff"/>
<path d="M736 346h7v12h-7zM737 347v10h5v-10z" fill="#0000ff" fill-rule="evenodd"/>
<rect x="747" y="341" width="1" height="7" fill="#0000ff"/>
<rect x="747" y="371" width="1" height="1" fill="#0000ff"/>
<path d="M744 348h8v23h-8zM745 349v21h6v-21z" fill="#0000ff" fill-rule="evenodd"/>
<rect x="756" y="351" width="1" height="23" fill="#ff0000"/>
<rect x="753" y="353" width="7" height="14" fill="#ff0000"/>
<rect x="764" y="403" width="1" height="5" fill="#0000ff"/>
<path d="M761 371h8v32h-8zM762 372v30h6v-30z" fill="#0000ff" fill-rule="evenodd"/>
<rect x="773" y="384" width="1" height="21" fill="#ff0000"/>
<rect x="770" y="387" width="7" height="6" fill="#ff0000"/>
<rect x="781" y="357" width="1" height="24" fill="#ff0000"/>
<rect x="778" y="363" width="8" height="18" fill="#ff0000"/>
<rect x="790" y="353" width="1" height="23" fill="#ff0000"/>
<rect x="787" y="355" width="8" height="9" fill="#ff0000"/>
<rect x="799" y="337" width="1" height="37" fill="#ff0000"/>
<rect x="796" y="342" width="7" height="31" fill="#ff0000"/>
<rect x="807" y="332" width="1" height="1" fill="#0000ff"/>
<path d="M804 333h8v19h-8zM805 334v17h6v-17z" fill="#0000ff" fill-rule="evenodd"/>
<rect x="816" y="326" width="1" height="3" fill="#0000ff"/>
<rect x="816" y="362" width="1" height="10" fill="#0000ff"/>
<path d="M813 329h7v33h-7zM814 330v31h5v-31z" fill="#0000ff" fill-rule="evenodd"/>
<rect x="824" y="344" width="1" height="9" fill="#0000ff"/>
<rect x="824" y="366" width="1" height="10" fill="#0000ff"/>
<path d="M821 353h8v13h-8zM822 354v11h6v-11z" fill="#0000ff" fill-rule="evenodd"/>
<rect x="833" y="394" width="1" height="4" fill="#0000ff"/>
<path d="M830 367h7v27h-7zM831 368v25h5v-25z" fill="#0000ff" fill-rule="evenodd"/>
<rect x="841" y="390" width="1" height="36" fill="#ff0000"/>
<rect x="838" y="392" width="8" height="12" fill="#ff0000"/>
<rect x="850" y="390" width="1" height="6" fill="#0000ff"/>
<rect x="850" y="419" width="1" height="7" fill="#0000ff"/>
<path d="M847 396h7v23h-7zM848 397v21h5v-21z" fill="#0000ff" fill-rule="evenodd"/>
<rect x="858" y="405" width="1" height="5" fill="#0000ff"/>
<rect x="858" y="413" width="1" height="21" fill="#0000ff"/>
<path d="M855 410h8v3h-8zM856 411v1h6v-1z" fill="#0000ff" fill-rule="evenodd"/>
<rect x="867" y="396" width="1" height="4" fill="#0000ff"/>
<rect x="867" y="404" width="1" height="16" fill="#0000ff"/>
<path d="M864 400h8v4h-8zM865 401v2h6v-2z" fill="#0000ff" fill-rule="evenodd"/>
<rect x="1" y="689" width="7" height="34" fill="#ff0000"/>
<rect x="10" y="650" width="6" height="73" fill="#0000ff"/>
<rect x="18" y="699" width="7" height="24" fill="#ff0000"/>
<rect x="27" y="694" width="6" height="29" fill="#ff0000"/>
<rect x="35" y="691" width="7" height="32" fill="#0000ff"/>
<rect x="44" y="700" width="6" height="23" fill="#ff0000"/>
<rect x="52" y="711" width="7" height="12" fill="#0000ff"/>
<rect x="61" y="714" width="6" height="9" fill="#0000ff"/>
<rect x="69" y="706" width="7" height="17" fill="#0000ff"/>
<rect x="78" y="708" width="6" height="15" fill="#ff0000"/>
<rect x="87" y="712" width="6" height="11" fill="#ff0000"/>
<rect x="104" y="693" width="6" height="30" fill="#ff0000"/>
<rect x="112" y="699" width="7" height="24" fill="#0000ff"/>
<rect x="121" y="693" width="6" height="30" fill="#0000ff"/>
<rect x="129" y="696" width="7" height="27" fill="#0000ff"/>
<rect x="138" y="697" width="6" height="26" fill="#0000ff"/>
<rect x="146" y="682" width="7" height="41" fill="#ff0000"/>
<rect x="155" y="692" width="6" height="31" fill="#ff0000"/>
<rect x="164" y="687" width="6" height="36" fill="#ff0000"/>
<rect x="172" y="683" width="7" height="40" fill="#0000ff"/>
<rect x="181" y="698" width="6" height="25" fill="#ff0000"/>
<rect x="189" y="684" width="7" height="39" fill="#ff0000"/>
<rect x="198" y="684" width="6" height="39" fill="#ff0000"/>
<rect x="206" y="672" width="7" height="51" fill="#ff0000"/>
<rect x="215" y="676" width="6" height="47" fill="#0000ff"/>
<rect x="223" y="683" width="7" height="40" fill="#ff0000"/>
<rect x="232" y="685" width="6" height="38" fill="#ff0000"/>
<rect x="240" y="691" width="7" height="32" fill="#0000ff"/>
<rect x="249" y="680" width="6" height="43" fill="#ff0000"/>
<rect x="258" y="688" width="6" height="35" fill="#ff0000"/>
<rect x="266" y="693" width="7" height="30" fill="#0000ff"/>
<rect x="275" y="687" width="6" height="36" fill="#0000ff"/>
<rect x="283" y="678" width="7" height="45" fill="#ff0000"/>
<rect x="292" y="683" width="6" height="40" fill="#ff0000"/>
<rect x="300" y="683" width="7" height="40" fill="#ff0000"/>
<rect x="309" y="696" width="6" height="27" fill="#ff0000"/>
<rect x="317" y="692" width="7" height="31" fill="#0000ff"/>
<rect x="326" y="689" width="6" height="34" fill="#0000ff"/>
<rect x="334" y="677" width="7" height="46" fill="#ff0000"/>
<rect x="343" y="686" width="6" height="37" fill="#0000ff"/>
<rect x="352" y="698" width="6" height="25" fill="#0000ff"/>
<rect x="360" y="692" width="7" height="31" fill="#ff0000"/>
<rect x="369" y="689" width="6" height="34" fill="#0000ff"/>
<rect x="377" y="688" width="7" height="35" fill="#ff0000"/>
<rect x="386" y="684" width="6" height="39" fill="#ff0000"/>
<rect x="403" y="694" width="6" height="29" fill="#0000ff"/>
<rect x="411" y="693" width="7" height="30" fill="#0000ff"/>
<rect x="420" y="682" width="6" height="41" fill="#0000ff"/>
<rect x="429" y="688" width="6" height="35" fill="#0000ff"/>
<rect x="437" y="689" width="7" height="34" fill="#ff0000"/>
<rect x="446" y="691" width="6" height="32" fill="#ff0000"/>
<rect x="454" y="685" width="7" height="38" fill="#0000ff"/>
<rect x="463" y="686" width="6" height="37" fill="#ff0000"/>
<rect x="471" y="692" width="7" height="31" fill="#0000ff"/>
<rect x="480" y="691" width="6" height="32" fill="#0000ff"/>
<rect x="488" y="674" width="7" height="49" fill="#0000ff"/>
<rect x="497" y="688" width="6" height="35" fill="#ff0000"/>
<rect x="505" y="677" width="7" height="46" fill="#ff0000"/>
<rect x="514" y="690" width="6" height="33" fill="#ff0000"/>
<rect x="523" y="696" width="6" height="27" fill="#ff0000"/>
<rect x="531" y="685" width="7" height="38" fill="#ff0000"/>
<rect x="540" y="677" width="6" height="46" fill="#ff0000"/>
<rect x="548" y="682" width="7" height="41" fill="#ff0000"/>
<rect x="557" y="623" width="6" height="100" fill="#ff0000"/>
<rect x="565" y="692" width="7" height="31" fill="#ff0000"/>
<rect x="574" y="684" width="6" height="39" fill="#0000ff"/>
<rect x="582" y="690" width="7" height="33" fill="#0000ff"/>
<rect x="591" y="683" width="6" height="40" fill="#0000ff"/>
<rect x="599" y="693" width="7" height="30" fill="#ff0000"/>
<rect x="608" y="693" width="6" height="30" fill="#ff0000"/>
<rect x="617" y="692" width="6" height="31" fill="#0000ff"/>
<rect x="625" y="693" width="7" height="30" fill="#0000ff"/>
<rect x="634" y="682" width="6" height="41" fill="#0000ff"/>
<rect x="642" y="691" width="7" height="32" fill="#ff0000"/>
<rect x="651" y="688" width="6" height="35" fill="#ff0000"/>
<rect x="659" y="693" width="7" height="30" fill="#0000ff"/>
<rect x="668" y="679" width="6" height="44" fill="#0000ff"/>
<rect x="676" y="685" width="7" height="38" fill="#0000ff"/>
<rect x="685" y="683" width="6" height="40" fill="#0000ff"/>
<rect x="694" y="687" width="6" height="36" fill="#ff0000"/>
<rect x="702" y="683" width="7" height="40" fill="#ff0000"/>
<rect x="711" y="681" width="6" height="42" fill="#0000ff"/>
<rect x="719" y="690" width="7" height="33" fill="#ff0000"/>
<rect x="728" y="684" width="6" height="39" fill="#ff0000"/>
<rect x="736" y="692" width="7" height="31" fill="#0000ff"/>
<rect x="745" y="675" width="6" height="48" fill="#0000ff"/>
<rect x="753" y="680" width="7" height="43" fill="#ff0000"/>
<rect x="762" y="682" width="6" height="41" fill="#0000ff"/>
<rect x="770" y="690" width="7" height="33" fill="#ff0000"/>
<rect x="779" y="687" width="6" height="36" fill="#ff0000"/>
<rect x="788" y="676" width="6" height="47" fill="#ff0000"/>
<rect x="796" y="681" width="7" height="42" fill="#ff0000"/>
<rect x="805" y="694" width="6" height="29" fill="#0000ff"/>
<rect x="813" y="686" width="7" height="37" fill="#0000ff"/>
<rect x="822" y="681" width="6" height="42" fill="#0000ff"/>
<rect x="830" y="687" width="7" height="36" fill="#0000ff"/>
<rect x="839" y="695" width="6" height="28" fill="#ff0000"/>
<rect x="847" y="692" width="7" height="31" fill="#0000ff"/>
<rect x="856" y="683" width="6" height="40" fill="#0000ff"/>
<rect x="9" y="241" width="6" height="1" fill="#ff0000"/>
<rect x="8" y="242" width="8" height="1" fill="#ff0000"/>
<rect x="9" y="243" width="6" height="1" fill="#ff0000"/>
<rect x="9" y="623" width="6" height="1" fill="#ff0000"/>
<rect x="8" y="624" width="8" height="1" fill="#ff0000"/>
<rect x="9" y="625" width="6" height="1" fill="#ff0000"/>
<rect x="0" y="30" width="947" height="1" fill="#000"/>
<rect x="0" y="129" width="947" height="1" fill="#000"/>
<rect x="0" y="233" width="947" height="1" fill="#000"/>
<rect x="0" y="615" width="947" height="1" fill="#000"/>
<rect x="0" y="723" width="947" height="1" fill="#000"/>
<rect x="0" y="742" width="893" height="1" fill="#000"/>
<rect x="892" y="33" width="1" height="98" fill="#000"/>
<rect x="892" y="132" width="1" height="103" fill="#000"/>
<rect x="892" y="236" width="1" height="381" fill="#000"/>
<rect x="892" y="618" width="1" height="126" fill="#000"/>
<rect x="94" y="723" width="1" height="19" fill="#000"/>
<rect x="282" y="723" width="1" height="5" fill="#000"/>
<rect x="461" y="723" width="1" height="5" fill="#000"/>
<rect x="649" y="723" width="1" height="5" fill="#000"/>
<rect x="812" y="723" width="1" height="5" fill="#000"/>
<rect x="893" y="34" width="5" height="1" fill="#000"/>
<rect x="893" y="44" width="2" height="1" fill="#000"/>
<rect x="893" y="54" width="2" height="1" fill="#000"/>
<rect x="893" y="64" width="2" height="1" fill="#000"/>
<rect x="893" y="74" width="2" height="1" fill="#000"/>
<rect x="893" y="84" width="5" height="1" fill="#000"/>
<rect x="893" y="94" width="2" height="1" fill="#000"/>
<rect x="893" y="104" width="2" height="1" fill="#000"/>
<rect x="893" y="114" width="2" height="1" fill="#000"/>
<rect x="893" y="124" width="2" height="1" fill="#000"/>
<rect x="893" y="137" width="5" height="1" fill="#000"/>
<rect x="893" y="146" width="2" height="1" fill="#000"/>
<rect x="893" y="156" width="5" height="1" fill="#000"/>
<rect x="893" y="166" width="2" height="1" fill="#000"/>
<rect x="893" y="175" width="5" height="1" fill="#000"/>
<rect x="893" y="185" width="2" height="1" fill="#000"/>
<rect x="893" y="194" width="5" height="1" fill="#000"/>
<rect x="893" y="204" width="2" height="1" fill="#000"/>
<rect x="893" y="214" width="5" height="1" fill="#000"/>
<rect x="893" y="223" width="2" height="1" fill="#000"/>
<rect x="893" y="235" width="5" height="1" fill="#000"/>
<rect x="893" y="246" width="2" height="1" fill="#000"/>
<rect x="893" y="257" width="5" height="1" fill="#000"/>
<rect x="893" y="267" width="2" height="1" fill="#000"/>
<rect x="893" y="278" width="5" height="1" fill="#000"/>
<rect x="893" y="289" width="2" height="1" fill="#000"/>
<rect x="893" y="299" width="5" height="1" fill="#000"/>
<rect x="893" y="310" width="2" height="1" fill="#000"/>
<rect x="893" y="321" width="5" height="1" fill="#000"/>
<rect x="893" y="332" width="2" height="1" fill="#000"/>
<rect x="893" y="342" width="5" height="1" fill="#000"/>
<rect x="893" y="353" width="2" height="1" fill="#000"/>
<rect x="893" y="364" width="5" height="1" fill="#000"/>
<rect x="893" y="374" width="2" height="1" fill="#000"/>
<rect x="893" y="385" width="5" height="1" fill="#000"/>
<rect x="893" y="396" width="2" height="1" fill="#000"/>
<rect x="893" y="406" width="5" height="1" fill="#000"/>
<rect x="893" y="417" width="2" height="1" fill="#000"/>
<rect x="893" y="428" width="5" height="1" fill="#000"/>
<rect x="893" y="438" width="2" height="1" fill="#000"/>
<rect x="893" y="449" width="5" height="1" fill="#000"/>
<rect x="893" y="460" width="2" height="1" fill="#000"/>
<rect x="893" y="471" width="5" height="1" fill="#000"/>
<rect x="893" y="481" width="2" height="1" fill="#000"/>
<rect x="893" y="492" width="5" height="1" fill="#000"/>
<rect x="893" y="503" width="2" height="1" fill="#000"/>
<rect x="893" y="513" width="5" height="1" fill="#000"/>
<rect x="893" y="524" width="2" height="1" fill="#000"/>
<rect x="893" y="535" width="5" height="1" fill="#000"/>
<rect x="893" y="545" width="2" height="1" fill="#000"/>
<rect x="893" y="556" width="5" height="1" fill="#000"/>
<rect x="893" y="567" width="2" height="1" fill="#000"/>
<rect x="893" y="577" width="5" height="1" fill="#000"/>
<rect x="893" y="588" width="2" height="1" fill="#000"/>
<rect x="893" y="599" width="5" height="1" fill="#000"/>
<rect x="893" y="609" width="2" height="1" fill="#000"/>
<rect x="893" y="712" width="2" height="1" fill="#000"/>
<rect x="893" y="701" width="2" height="1" fill="#000"/>
<rect x="893" y="691" width="2" height="1" fill="#000"/>
<rect x="893" y="680" width="2" height="1" fill="#000"/>
<rect x="893" y="669" width="5" height="1" fill="#000"/>
<rect x="893" y="659" width="2" height="1" fill="#000"/>
<rect x="893" y="648" width="2" height="1" fill="#000"/>
<rect x="893" y="637" width="2" height="1" fill="#000"/>
<rect x="893" y="626" width="2" height="1" fill="#000"/>
<defs><filter id="nf" x="0" y="0" width="100%" height="100%" filterUnits="userSpaceOnUse" color-interpolation-filters="sRGB"><feOffset dx="0" dy="0"/></filter></defs>
<g filter="url(#nf)">
<text x="899.6" y="88" font-size="11" font-family="Liberation Sans, sans-serif" text-anchor="start" font-weight="normal" fill="#000" letter-spacing="-0.12">50</text>
<text x="899.6" y="141" font-size="11" font-family="Liberation Sans, sans-serif" text-anchor="start" font-weight="normal" fill="#000" letter-spacing="-0.12">300</text>
<text x="899.6" y="160" font-size="11" font-family="Liberation Sans, sans-serif" text-anchor="start" font-weight="normal" fill="#000" letter-spacing="-0.12">200</text>
<text x="899.6" y="179" font-size="11" font-family="Liberation Sans, sans-serif" text-anchor="start" font-weight="normal" fill="#000" letter-spacing="-0.12">100</text>
<text x="899.6" y="198" font-size="11" font-family="Liberation Sans, sans-serif" text-anchor="start" font-weight="normal" fill="#000" letter-spacing="-0.12">0</text>
<text x="899.6" y="218" font-size="11" font-family="Liberation Sans, sans-serif" text-anchor="start" font-weight="normal" fill="#000" letter-spacing="-0.12">-100</text>
<text x="899.6" y="261" font-size="11" font-family="Liberation Sans, sans-serif" text-anchor="start" font-weight="normal" fill="#000" letter-spacing="-0.12">7200.00</text>
<text x="899.6" y="282" font-size="11" font-family="Liberation Sans, sans-serif" text-anchor="start" font-weight="normal" fill="#000" letter-spacing="-0.12">7100.00</text>
<text x="899.6" y="303" font-size="11" font-family="Liberation Sans, sans-serif" text-anchor="start" font-weight="normal" fill="#000" letter-spacing="-0.12">7000.00</text>
<text x="899.6" y="325" font-size="11" font-family="Liberation Sans, sans-serif" text-anchor="start" font-weight="normal" fill="#000" letter-spacing="-0.12">6900.00</text>
<text x="899.6" y="346" font-size="11" font-family="Liberation Sans, sans-serif" text-anchor="start" font-weight="normal" fill="#000" letter-spacing="-0.12">6800.00</text>
<text x="899.6" y="368" font-size="11" font-family="Liberation Sans, sans-serif" text-anchor="start" font-weight="normal" fill="#000" letter-spacing="-0.12">6700.00</text>
<text x="899.6" y="389" font-size="11" font-family="Liberation Sans, sans-serif" text-anchor="start" font-weight="normal" fill="#000" letter-spacing="-0.12">6600.00</text>
<text x="899.6" y="432" font-size="11" font-family="Liberation Sans, sans-serif" text-anchor="start" font-weight="normal" fill="#000" letter-spacing="-0.12">6400.00</text>
<text x="899.6" y="453" font-size="11" font-family="Liberation Sans, sans-serif" text-anchor="start" font-weight="normal" fill="#000" letter-spacing="-0.12">6300.00</text>
<text x="899.6" y="475" font-size="11" font-family="Liberation Sans, sans-serif" text-anchor="start" font-weight="normal" fill="#000" letter-spacing="-0.12">6200.00</text>
<text x="899.6" y="496" font-size="11" font-family="Liberation Sans, sans-serif" text-anchor="start" font-weight="normal" fill="#000" letter-spacing="-0.12">6100.00</text>
<text x="899.6" y="517" font-size="11" font-family="Liberation Sans, sans-serif" text-anchor="start" font-weight="normal" fill="#000" letter-spacing="-0.12">6000.00</text>
<text x="899.6" y="539" font-size="11" font-family="Liberation Sans, sans-serif" text-anchor="start" font-weight="normal" fill="#000" letter-spacing="-0.12">5900.00</text>
<text x="899.6" y="560" font-size="11" font-family="Liberation Sans, sans-serif" text-anchor="start" font-weight="normal" fill="#000" letter-spacing="-0.12">5800.00</text>
<text x="899.6" y="581" font-size="11" font-family="Liberation Sans, sans-serif" text-anchor="start" font-weight="normal" fill="#000" letter-spacing="-0.12">5700.00</text>
<text x="899.6" y="603" font-size="11" font-family="Liberation Sans, sans-serif" text-anchor="start" font-weight="normal" fill="#000" letter-spacing="-0.12">5600.00</text>
<text x="899.6" y="673" font-size="11" font-family="Liberation Sans, sans-serif" text-anchor="start" font-weight="normal" fill="#000" letter-spacing="-0.12">500000</text>
<path d="M897 708h25v13h-25zM898 709v11h23v-11z" fill="#000" fill-rule="evenodd"/>
<text x="898.6" y="719" font-size="11" font-family="Liberation Sans, sans-serif" text-anchor="start" font-weight="normal" fill="#000" letter-spacing="-0.12">*100</text>
<rect x="895" y="396" width="52" height="14" fill="#ff8080"/>
<text x="900.6" y="407" font-size="11" font-family="Liberation Sans, sans-serif" text-anchor="start" font-weight="normal" fill="#fff" letter-spacing="-0.12">6,518.00</text>
<text x="906.8" y="421" font-size="11" font-family="Liberation Sans, sans-serif" text-anchor="start" font-weight="normal" fill="#ff0000" letter-spacing="-0.12">0.66%</text>
<text x="0.5" y="740" font-size="11" font-family="Liberation Sans, sans-serif" text-anchor="start" font-weight="normal" fill="#000" letter-spacing="-0.12">2011/12</text>
<text x="94.5" y="740" font-size="11" font-family="Liberation Sans, sans-serif" text-anchor="start" font-weight="normal" fill="#000" letter-spacing="-0.12">2012/01</text>
<text x="282.5" y="740" font-size="11" font-family="Liberation Sans, sans-serif" text-anchor="start" font-weight="normal" fill="#000" letter-spacing="-0.12">2</text>
<text x="461.5" y="740" font-size="11" font-family="Liberation Sans, sans-serif" text-anchor="start" font-weight="normal" fill="#000" letter-spacing="-0.12">3</text>
<text x="649.5" y="740" font-size="11" font-family="Liberation Sans, sans-serif" text-anchor="start" font-weight="normal" fill="#000" letter-spacing="-0.12">4</text>
<text x="813.2" y="740" font-size="11" font-family="Liberation Sans, sans-serif" text-anchor="start" font-weight="normal" fill="#000" letter-spacing="-0.12">5</text>
<text x="2.6" y="20" font-size="14" font-family="Liberation Sans, sans-serif" text-anchor="start" font-weight="bold" fill="#000" >2011-12-15</text>
<text x="944.8" y="20" font-size="14" font-family="Liberation Sans, sans-serif" text-anchor="end" font-weight="bold" fill="#000" >2012-05-10</text>
<text x="379.5" y="21" font-size="16" font-family="Liberation Sans, Noto Sans CJK KR, sans-serif" letter-spacing="1.1" fill="#000">독일지수</text>
<text x="450" y="20" font-size="14" font-family="Liberation Sans, sans-serif" font-weight="bold" fill="#000">(</text>
<text transform="translate(457.8,20) scale(0.953,1)" font-size="14" font-family="Liberation Sans, sans-serif" font-weight="bold" fill="#000">GR#DAX</text>
<text x="517.5" y="20" font-size="14" font-family="Liberation Sans, sans-serif" font-weight="bold" fill="#000">)</text>
<text x="525" y="20" font-size="14" font-family="Liberation Sans, sans-serif" font-weight="bold" fill="#000">,</text>
<text x="538.5" y="21" font-size="16" font-family="Liberation Sans, Noto Sans CJK KR, sans-serif" letter-spacing="1.1" fill="#000">일간</text>
<text transform="translate(946,760) scale(0.96,1)" font-size="14" font-family="Liberation Sans, sans-serif" font-weight="bold" text-anchor="end" fill="#000">Daishin Securities Co. Ltd.</text>
</g>
</svg>
</body></html>
